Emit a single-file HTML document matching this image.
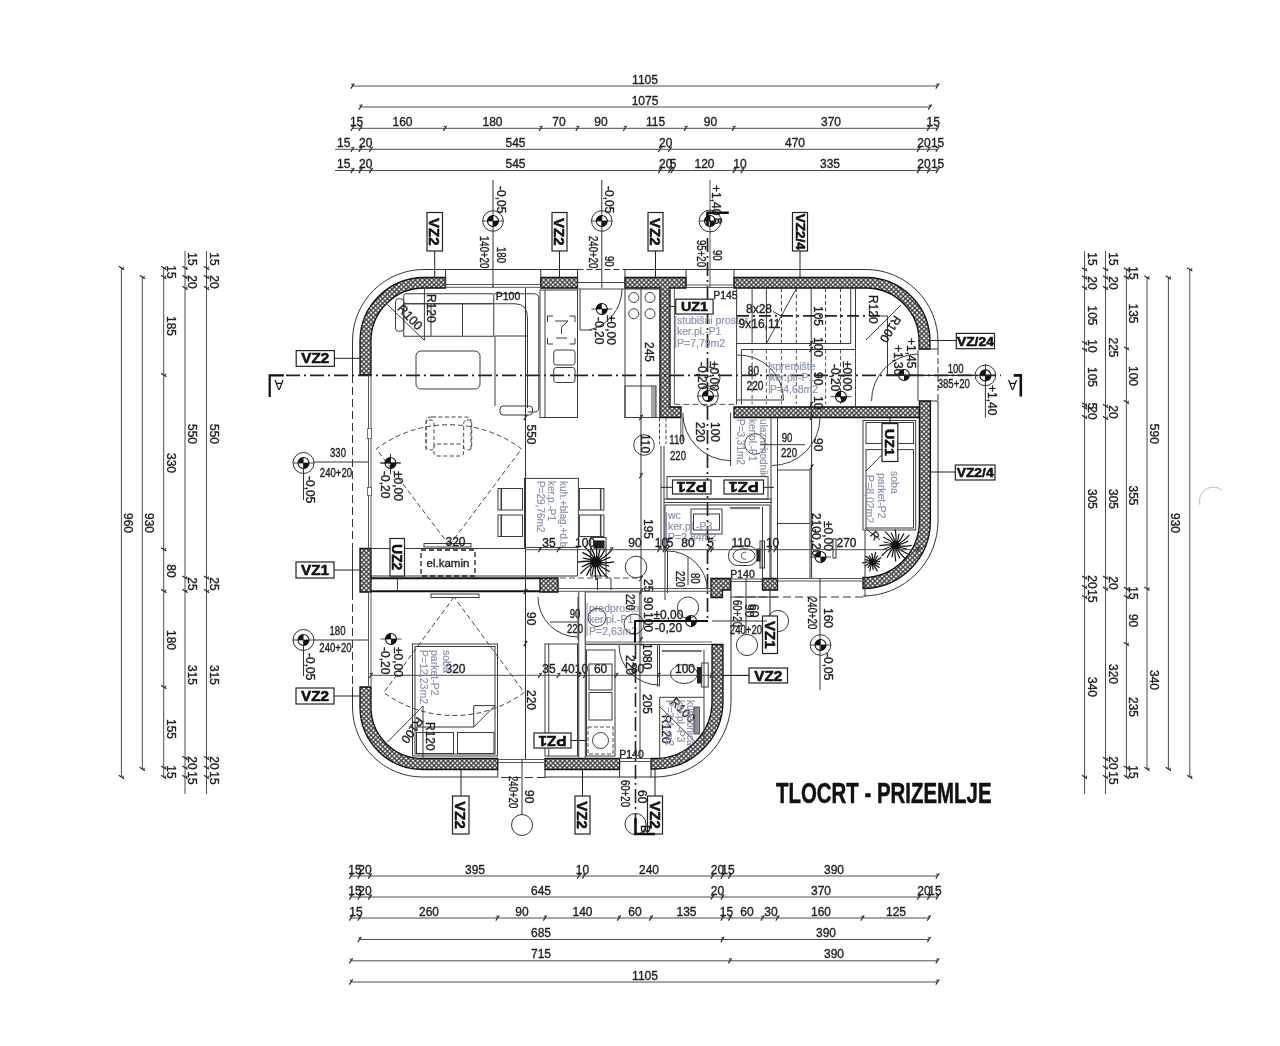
<!DOCTYPE html>
<html><head><meta charset="utf-8"><style>
html,body{margin:0;padding:0;background:#fff;}
svg{display:block;filter:blur(0.3px);}
text{font-family:"Liberation Sans",sans-serif;}
</style></head><body>
<svg width="1280" height="1046" viewBox="0 0 1280 1046">
<rect width="1280" height="1046" fill="#fff"/>
<defs>
<pattern id="hatch" width="3.3" height="3.3" patternUnits="userSpaceOnUse" patternTransform="rotate(45)">
<rect width="3.3" height="3.3" fill="#333"/><rect x="0.6" y="0.6" width="2.1" height="2.1" fill="#f6f6f6"/>
</pattern>
</defs>
<line x1="352.5" y1="86" x2="937.5" y2="86" stroke="#4d4d4d" stroke-width="1"/>
<path d="M350.8 88.6L354.2 83.4M351.3 84.2L352.7 84.2" stroke="#2a2a2a" stroke-width="1.15" fill="none"/>
<path d="M935.8 88.6L939.2 83.4M936.3 84.2L937.7 84.2" stroke="#2a2a2a" stroke-width="1.15" fill="none"/>
<text x="645" y="83.6" font-size="12" text-anchor="middle" fill="#1e1e1e" stroke="#1e1e1e" stroke-width="0.35">1105</text>
<line x1="360.5" y1="107" x2="930" y2="107" stroke="#4d4d4d" stroke-width="1"/>
<path d="M358.8 109.6L362.2 104.4M359.3 105.2L360.7 105.2" stroke="#2a2a2a" stroke-width="1.15" fill="none"/>
<path d="M928.3 109.6L931.7 104.4M928.8 105.2L930.2 105.2" stroke="#2a2a2a" stroke-width="1.15" fill="none"/>
<text x="645" y="104.6" font-size="12" text-anchor="middle" fill="#1e1e1e" stroke="#1e1e1e" stroke-width="0.35">1075</text>
<line x1="352.5" y1="128.3" x2="937.5" y2="128.3" stroke="#4d4d4d" stroke-width="1"/>
<path d="M350.8 130.9L354.2 125.70000000000002M351.3 126.50000000000001L352.7 126.50000000000001" stroke="#2a2a2a" stroke-width="1.15" fill="none"/>
<path d="M358.8 130.9L362.2 125.70000000000002M359.3 126.50000000000001L360.7 126.50000000000001" stroke="#2a2a2a" stroke-width="1.15" fill="none"/>
<path d="M443.3 130.9L446.7 125.70000000000002M443.8 126.50000000000001L445.2 126.50000000000001" stroke="#2a2a2a" stroke-width="1.15" fill="none"/>
<path d="M539.05 130.9L542.45 125.70000000000002M539.55 126.50000000000001L540.95 126.50000000000001" stroke="#2a2a2a" stroke-width="1.15" fill="none"/>
<path d="M575.8 130.9L579.2 125.70000000000002M576.3 126.50000000000001L577.7 126.50000000000001" stroke="#2a2a2a" stroke-width="1.15" fill="none"/>
<path d="M623.3 130.9L626.7 125.70000000000002M623.8 126.50000000000001L625.2 126.50000000000001" stroke="#2a2a2a" stroke-width="1.15" fill="none"/>
<path d="M684.05 130.9L687.45 125.70000000000002M684.55 126.50000000000001L685.95 126.50000000000001" stroke="#2a2a2a" stroke-width="1.15" fill="none"/>
<path d="M732.05 130.9L735.45 125.70000000000002M732.55 126.50000000000001L733.95 126.50000000000001" stroke="#2a2a2a" stroke-width="1.15" fill="none"/>
<path d="M927.05 130.9L930.45 125.70000000000002M927.55 126.50000000000001L928.95 126.50000000000001" stroke="#2a2a2a" stroke-width="1.15" fill="none"/>
<path d="M935.8 130.9L939.2 125.70000000000002M936.3 126.50000000000001L937.7 126.50000000000001" stroke="#2a2a2a" stroke-width="1.15" fill="none"/>
<text x="356.6" y="125.9" font-size="12" text-anchor="middle" fill="#1e1e1e" stroke="#1e1e1e" stroke-width="0.35">15</text>
<text x="402.5" y="125.9" font-size="12" text-anchor="middle" fill="#1e1e1e" stroke="#1e1e1e" stroke-width="0.35">160</text>
<text x="492.5" y="125.9" font-size="12" text-anchor="middle" fill="#1e1e1e" stroke="#1e1e1e" stroke-width="0.35">180</text>
<text x="559" y="125.9" font-size="12" text-anchor="middle" fill="#1e1e1e" stroke="#1e1e1e" stroke-width="0.35">70</text>
<text x="601" y="125.9" font-size="12" text-anchor="middle" fill="#1e1e1e" stroke="#1e1e1e" stroke-width="0.35">90</text>
<text x="655.5" y="125.9" font-size="12" text-anchor="middle" fill="#1e1e1e" stroke="#1e1e1e" stroke-width="0.35">115</text>
<text x="710.5" y="125.9" font-size="12" text-anchor="middle" fill="#1e1e1e" stroke="#1e1e1e" stroke-width="0.35">90</text>
<text x="831" y="125.9" font-size="12" text-anchor="middle" fill="#1e1e1e" stroke="#1e1e1e" stroke-width="0.35">370</text>
<text x="933.3" y="125.9" font-size="12" text-anchor="middle" fill="#1e1e1e" stroke="#1e1e1e" stroke-width="0.35">15</text>
<line x1="335" y1="149.3" x2="937.5" y2="149.3" stroke="#4d4d4d" stroke-width="1"/>
<path d="M350.8 151.9L354.2 146.70000000000002M351.3 147.5L352.7 147.5" stroke="#2a2a2a" stroke-width="1.15" fill="none"/>
<path d="M358.8 151.9L362.2 146.70000000000002M359.3 147.5L360.7 147.5" stroke="#2a2a2a" stroke-width="1.15" fill="none"/>
<path d="M369.3 151.9L372.7 146.70000000000002M369.8 147.5L371.2 147.5" stroke="#2a2a2a" stroke-width="1.15" fill="none"/>
<path d="M658.3 151.9L661.7 146.70000000000002M658.8 147.5L660.2 147.5" stroke="#2a2a2a" stroke-width="1.15" fill="none"/>
<path d="M668.3 151.9L671.7 146.70000000000002M668.8 147.5L670.2 147.5" stroke="#2a2a2a" stroke-width="1.15" fill="none"/>
<path d="M917.05 151.9L920.45 146.70000000000002M917.55 147.5L918.95 147.5" stroke="#2a2a2a" stroke-width="1.15" fill="none"/>
<path d="M927.05 151.9L930.45 146.70000000000002M927.55 147.5L928.95 147.5" stroke="#2a2a2a" stroke-width="1.15" fill="none"/>
<path d="M935.8 151.9L939.2 146.70000000000002M936.3 147.5L937.7 147.5" stroke="#2a2a2a" stroke-width="1.15" fill="none"/>
<text x="343.8" y="146.9" font-size="12" text-anchor="middle" fill="#1e1e1e" stroke="#1e1e1e" stroke-width="0.35">15</text>
<text x="365.8" y="146.9" font-size="12" text-anchor="middle" fill="#1e1e1e" stroke="#1e1e1e" stroke-width="0.35">20</text>
<text x="515.5" y="146.9" font-size="12" text-anchor="middle" fill="#1e1e1e" stroke="#1e1e1e" stroke-width="0.35">545</text>
<text x="665.8" y="146.9" font-size="12" text-anchor="middle" fill="#1e1e1e" stroke="#1e1e1e" stroke-width="0.35">20</text>
<text x="795" y="146.9" font-size="12" text-anchor="middle" fill="#1e1e1e" stroke="#1e1e1e" stroke-width="0.35">470</text>
<text x="924" y="146.9" font-size="12" text-anchor="middle" fill="#1e1e1e" stroke="#1e1e1e" stroke-width="0.35">20</text>
<text x="937.6" y="146.9" font-size="12" text-anchor="middle" fill="#1e1e1e" stroke="#1e1e1e" stroke-width="0.35">15</text>
<line x1="335" y1="170.5" x2="937.5" y2="170.5" stroke="#4d4d4d" stroke-width="1"/>
<path d="M350.8 173.1L354.2 167.9M351.3 168.7L352.7 168.7" stroke="#2a2a2a" stroke-width="1.15" fill="none"/>
<path d="M358.8 173.1L362.2 167.9M359.3 168.7L360.7 168.7" stroke="#2a2a2a" stroke-width="1.15" fill="none"/>
<path d="M369.3 173.1L372.7 167.9M369.8 168.7L371.2 168.7" stroke="#2a2a2a" stroke-width="1.15" fill="none"/>
<path d="M658.3 173.1L661.7 167.9M658.8 168.7L660.2 168.7" stroke="#2a2a2a" stroke-width="1.15" fill="none"/>
<path d="M668.3 173.1L671.7 167.9M668.8 168.7L670.2 168.7" stroke="#2a2a2a" stroke-width="1.15" fill="none"/>
<path d="M670.8 173.1L674.2 167.9M671.3 168.7L672.7 168.7" stroke="#2a2a2a" stroke-width="1.15" fill="none"/>
<path d="M732.8 173.1L736.2 167.9M733.3 168.7L734.7 168.7" stroke="#2a2a2a" stroke-width="1.15" fill="none"/>
<path d="M740.8 173.1L744.2 167.9M741.3 168.7L742.7 168.7" stroke="#2a2a2a" stroke-width="1.15" fill="none"/>
<path d="M917.05 173.1L920.45 167.9M917.55 168.7L918.95 168.7" stroke="#2a2a2a" stroke-width="1.15" fill="none"/>
<path d="M927.05 173.1L930.45 167.9M927.55 168.7L928.95 168.7" stroke="#2a2a2a" stroke-width="1.15" fill="none"/>
<path d="M935.8 173.1L939.2 167.9M936.3 168.7L937.7 168.7" stroke="#2a2a2a" stroke-width="1.15" fill="none"/>
<text x="343.8" y="168.1" font-size="12" text-anchor="middle" fill="#1e1e1e" stroke="#1e1e1e" stroke-width="0.35">15</text>
<text x="365.8" y="168.1" font-size="12" text-anchor="middle" fill="#1e1e1e" stroke="#1e1e1e" stroke-width="0.35">20</text>
<text x="515.5" y="168.1" font-size="12" text-anchor="middle" fill="#1e1e1e" stroke="#1e1e1e" stroke-width="0.35">545</text>
<text x="665.8" y="168.1" font-size="12" text-anchor="middle" fill="#1e1e1e" stroke="#1e1e1e" stroke-width="0.35">20</text>
<text x="673" y="168.1" font-size="12" text-anchor="middle" fill="#1e1e1e" stroke="#1e1e1e" stroke-width="0.35">5</text>
<text x="704.5" y="168.1" font-size="12" text-anchor="middle" fill="#1e1e1e" stroke="#1e1e1e" stroke-width="0.35">120</text>
<text x="740" y="168.1" font-size="12" text-anchor="middle" fill="#1e1e1e" stroke="#1e1e1e" stroke-width="0.35">10</text>
<text x="830" y="168.1" font-size="12" text-anchor="middle" fill="#1e1e1e" stroke="#1e1e1e" stroke-width="0.35">335</text>
<text x="924" y="168.1" font-size="12" text-anchor="middle" fill="#1e1e1e" stroke="#1e1e1e" stroke-width="0.35">20</text>
<text x="937.6" y="168.1" font-size="12" text-anchor="middle" fill="#1e1e1e" stroke="#1e1e1e" stroke-width="0.35">15</text>
<line x1="351" y1="876" x2="937.5" y2="876" stroke="#4d4d4d" stroke-width="1"/>
<path d="M349.3 878.6L352.7 873.4M349.8 874.2L351.2 874.2" stroke="#2a2a2a" stroke-width="1.15" fill="none"/>
<path d="M357.8 878.6L361.2 873.4M358.3 874.2L359.7 874.2" stroke="#2a2a2a" stroke-width="1.15" fill="none"/>
<path d="M368.3 878.6L371.7 873.4M368.8 874.2L370.2 874.2" stroke="#2a2a2a" stroke-width="1.15" fill="none"/>
<path d="M577.3 878.6L580.7 873.4M577.8 874.2L579.2 874.2" stroke="#2a2a2a" stroke-width="1.15" fill="none"/>
<path d="M582.3 878.6L585.7 873.4M582.8 874.2L584.2 874.2" stroke="#2a2a2a" stroke-width="1.15" fill="none"/>
<path d="M710.8 878.6L714.2 873.4M711.3 874.2L712.7 874.2" stroke="#2a2a2a" stroke-width="1.15" fill="none"/>
<path d="M720.8 878.6L724.2 873.4M721.3 874.2L722.7 874.2" stroke="#2a2a2a" stroke-width="1.15" fill="none"/>
<path d="M728.3 878.6L731.7 873.4M728.8 874.2L730.2 874.2" stroke="#2a2a2a" stroke-width="1.15" fill="none"/>
<path d="M935.8 878.6L939.2 873.4M936.3 874.2L937.7 874.2" stroke="#2a2a2a" stroke-width="1.15" fill="none"/>
<text x="355" y="873.6" font-size="12" text-anchor="middle" fill="#1e1e1e" stroke="#1e1e1e" stroke-width="0.35">15</text>
<text x="365" y="873.6" font-size="12" text-anchor="middle" fill="#1e1e1e" stroke="#1e1e1e" stroke-width="0.35">20</text>
<text x="475" y="873.6" font-size="12" text-anchor="middle" fill="#1e1e1e" stroke="#1e1e1e" stroke-width="0.35">395</text>
<text x="582.5" y="873.6" font-size="12" text-anchor="middle" fill="#1e1e1e" stroke="#1e1e1e" stroke-width="0.35">10</text>
<text x="649" y="873.6" font-size="12" text-anchor="middle" fill="#1e1e1e" stroke="#1e1e1e" stroke-width="0.35">240</text>
<text x="717.5" y="873.6" font-size="12" text-anchor="middle" fill="#1e1e1e" stroke="#1e1e1e" stroke-width="0.35">20</text>
<text x="728" y="873.6" font-size="12" text-anchor="middle" fill="#1e1e1e" stroke="#1e1e1e" stroke-width="0.35">15</text>
<text x="834" y="873.6" font-size="12" text-anchor="middle" fill="#1e1e1e" stroke="#1e1e1e" stroke-width="0.35">390</text>
<line x1="351" y1="897" x2="937.5" y2="897" stroke="#4d4d4d" stroke-width="1"/>
<path d="M349.3 899.6L352.7 894.4M349.8 895.2L351.2 895.2" stroke="#2a2a2a" stroke-width="1.15" fill="none"/>
<path d="M357.8 899.6L361.2 894.4M358.3 895.2L359.7 895.2" stroke="#2a2a2a" stroke-width="1.15" fill="none"/>
<path d="M368.3 899.6L371.7 894.4M368.8 895.2L370.2 895.2" stroke="#2a2a2a" stroke-width="1.15" fill="none"/>
<path d="M710.8 899.6L714.2 894.4M711.3 895.2L712.7 895.2" stroke="#2a2a2a" stroke-width="1.15" fill="none"/>
<path d="M720.8 899.6L724.2 894.4M721.3 895.2L722.7 895.2" stroke="#2a2a2a" stroke-width="1.15" fill="none"/>
<path d="M917.3 899.6L920.7 894.4M917.8 895.2L919.2 895.2" stroke="#2a2a2a" stroke-width="1.15" fill="none"/>
<path d="M927.3 899.6L930.7 894.4M927.8 895.2L929.2 895.2" stroke="#2a2a2a" stroke-width="1.15" fill="none"/>
<path d="M935.8 899.6L939.2 894.4M936.3 895.2L937.7 895.2" stroke="#2a2a2a" stroke-width="1.15" fill="none"/>
<text x="355" y="894.6" font-size="12" text-anchor="middle" fill="#1e1e1e" stroke="#1e1e1e" stroke-width="0.35">15</text>
<text x="365" y="894.6" font-size="12" text-anchor="middle" fill="#1e1e1e" stroke="#1e1e1e" stroke-width="0.35">20</text>
<text x="541" y="894.6" font-size="12" text-anchor="middle" fill="#1e1e1e" stroke="#1e1e1e" stroke-width="0.35">645</text>
<text x="717.5" y="894.6" font-size="12" text-anchor="middle" fill="#1e1e1e" stroke="#1e1e1e" stroke-width="0.35">20</text>
<text x="821" y="894.6" font-size="12" text-anchor="middle" fill="#1e1e1e" stroke="#1e1e1e" stroke-width="0.35">370</text>
<text x="924" y="894.6" font-size="12" text-anchor="middle" fill="#1e1e1e" stroke="#1e1e1e" stroke-width="0.35">20</text>
<text x="935" y="894.6" font-size="12" text-anchor="middle" fill="#1e1e1e" stroke="#1e1e1e" stroke-width="0.35">15</text>
<line x1="351" y1="918" x2="929" y2="918" stroke="#4d4d4d" stroke-width="1"/>
<path d="M349.3 920.6L352.7 915.4M349.8 916.2L351.2 916.2" stroke="#2a2a2a" stroke-width="1.15" fill="none"/>
<path d="M357.8 920.6L361.2 915.4M358.3 916.2L359.7 916.2" stroke="#2a2a2a" stroke-width="1.15" fill="none"/>
<path d="M495.8 920.6L499.2 915.4M496.3 916.2L497.7 916.2" stroke="#2a2a2a" stroke-width="1.15" fill="none"/>
<path d="M543.3 920.6L546.7 915.4M543.8 916.2L545.2 916.2" stroke="#2a2a2a" stroke-width="1.15" fill="none"/>
<path d="M617.3 920.6L620.7 915.4M617.8 916.2L619.2 916.2" stroke="#2a2a2a" stroke-width="1.15" fill="none"/>
<path d="M649.3 920.6L652.7 915.4M649.8 916.2L651.2 916.2" stroke="#2a2a2a" stroke-width="1.15" fill="none"/>
<path d="M720.8 920.6L724.2 915.4M721.3 916.2L722.7 916.2" stroke="#2a2a2a" stroke-width="1.15" fill="none"/>
<path d="M728.3 920.6L731.7 915.4M728.8 916.2L730.2 916.2" stroke="#2a2a2a" stroke-width="1.15" fill="none"/>
<path d="M760.8 920.6L764.2 915.4M761.3 916.2L762.7 916.2" stroke="#2a2a2a" stroke-width="1.15" fill="none"/>
<path d="M775.8 920.6L779.2 915.4M776.3 916.2L777.7 916.2" stroke="#2a2a2a" stroke-width="1.15" fill="none"/>
<path d="M860.8 920.6L864.2 915.4M861.3 916.2L862.7 916.2" stroke="#2a2a2a" stroke-width="1.15" fill="none"/>
<path d="M927.3 920.6L930.7 915.4M927.8 916.2L929.2 916.2" stroke="#2a2a2a" stroke-width="1.15" fill="none"/>
<text x="356" y="915.6" font-size="12" text-anchor="middle" fill="#1e1e1e" stroke="#1e1e1e" stroke-width="0.35">15</text>
<text x="429" y="915.6" font-size="12" text-anchor="middle" fill="#1e1e1e" stroke="#1e1e1e" stroke-width="0.35">260</text>
<text x="522" y="915.6" font-size="12" text-anchor="middle" fill="#1e1e1e" stroke="#1e1e1e" stroke-width="0.35">90</text>
<text x="582.5" y="915.6" font-size="12" text-anchor="middle" fill="#1e1e1e" stroke="#1e1e1e" stroke-width="0.35">140</text>
<text x="635" y="915.6" font-size="12" text-anchor="middle" fill="#1e1e1e" stroke="#1e1e1e" stroke-width="0.35">60</text>
<text x="686.5" y="915.6" font-size="12" text-anchor="middle" fill="#1e1e1e" stroke="#1e1e1e" stroke-width="0.35">135</text>
<text x="726.5" y="915.6" font-size="12" text-anchor="middle" fill="#1e1e1e" stroke="#1e1e1e" stroke-width="0.35">15</text>
<text x="747" y="915.6" font-size="12" text-anchor="middle" fill="#1e1e1e" stroke="#1e1e1e" stroke-width="0.35">60</text>
<text x="771" y="915.6" font-size="12" text-anchor="middle" fill="#1e1e1e" stroke="#1e1e1e" stroke-width="0.35">30</text>
<text x="821" y="915.6" font-size="12" text-anchor="middle" fill="#1e1e1e" stroke="#1e1e1e" stroke-width="0.35">160</text>
<text x="896" y="915.6" font-size="12" text-anchor="middle" fill="#1e1e1e" stroke="#1e1e1e" stroke-width="0.35">125</text>
<line x1="359.5" y1="939.5" x2="929" y2="939.5" stroke="#4d4d4d" stroke-width="1"/>
<path d="M357.8 942.1L361.2 936.9M358.3 937.7L359.7 937.7" stroke="#2a2a2a" stroke-width="1.15" fill="none"/>
<path d="M720.8 942.1L724.2 936.9M721.3 937.7L722.7 937.7" stroke="#2a2a2a" stroke-width="1.15" fill="none"/>
<path d="M927.3 942.1L930.7 936.9M927.8 937.7L929.2 937.7" stroke="#2a2a2a" stroke-width="1.15" fill="none"/>
<text x="541" y="937.1" font-size="12" text-anchor="middle" fill="#1e1e1e" stroke="#1e1e1e" stroke-width="0.35">685</text>
<text x="826" y="937.1" font-size="12" text-anchor="middle" fill="#1e1e1e" stroke="#1e1e1e" stroke-width="0.35">390</text>
<line x1="351" y1="960.8" x2="937.5" y2="960.8" stroke="#4d4d4d" stroke-width="1"/>
<path d="M349.3 963.4L352.7 958.1999999999999M349.8 959.0L351.2 959.0" stroke="#2a2a2a" stroke-width="1.15" fill="none"/>
<path d="M728.3 963.4L731.7 958.1999999999999M728.8 959.0L730.2 959.0" stroke="#2a2a2a" stroke-width="1.15" fill="none"/>
<path d="M935.8 963.4L939.2 958.1999999999999M936.3 959.0L937.7 959.0" stroke="#2a2a2a" stroke-width="1.15" fill="none"/>
<text x="541" y="958.4" font-size="12" text-anchor="middle" fill="#1e1e1e" stroke="#1e1e1e" stroke-width="0.35">715</text>
<text x="834" y="958.4" font-size="12" text-anchor="middle" fill="#1e1e1e" stroke="#1e1e1e" stroke-width="0.35">390</text>
<line x1="351" y1="982" x2="937.5" y2="982" stroke="#4d4d4d" stroke-width="1"/>
<path d="M349.3 984.6L352.7 979.4M349.8 980.2L351.2 980.2" stroke="#2a2a2a" stroke-width="1.15" fill="none"/>
<path d="M935.8 984.6L939.2 979.4M936.3 980.2L937.7 980.2" stroke="#2a2a2a" stroke-width="1.15" fill="none"/>
<text x="645" y="979.6" font-size="12" text-anchor="middle" fill="#1e1e1e" stroke="#1e1e1e" stroke-width="0.35">1105</text>
<line x1="121.4" y1="268" x2="121.4" y2="777" stroke="#4d4d4d" stroke-width="1"/>
<path d="M118.80000000000001 266.3L124.0 269.7M123.2 266.8L123.2 268.2" stroke="#2a2a2a" stroke-width="1.15" fill="none"/>
<path d="M118.80000000000001 775.3L124.0 778.7M123.2 775.8L123.2 777.2" stroke="#2a2a2a" stroke-width="1.15" fill="none"/>
<text x="124.4" y="523" font-size="12" text-anchor="middle" fill="#1e1e1e" stroke="#1e1e1e" stroke-width="0.35" transform="rotate(90 124.4 523)">960</text>
<line x1="142.3" y1="277" x2="142.3" y2="769" stroke="#4d4d4d" stroke-width="1"/>
<path d="M139.70000000000002 275.3L144.9 278.7M144.10000000000002 275.8L144.10000000000002 277.2" stroke="#2a2a2a" stroke-width="1.15" fill="none"/>
<path d="M139.70000000000002 767.3L144.9 770.7M144.10000000000002 767.8L144.10000000000002 769.2" stroke="#2a2a2a" stroke-width="1.15" fill="none"/>
<text x="145.3" y="523" font-size="12" text-anchor="middle" fill="#1e1e1e" stroke="#1e1e1e" stroke-width="0.35" transform="rotate(90 145.3 523)">930</text>
<line x1="163.7" y1="268" x2="163.7" y2="777" stroke="#4d4d4d" stroke-width="1"/>
<path d="M161.1 266.3L166.29999999999998 269.7M165.5 266.8L165.5 268.2" stroke="#2a2a2a" stroke-width="1.15" fill="none"/>
<path d="M161.1 275.3L166.29999999999998 278.7M165.5 275.8L165.5 277.2" stroke="#2a2a2a" stroke-width="1.15" fill="none"/>
<path d="M161.1 373.3L166.29999999999998 376.7M165.5 373.8L165.5 375.2" stroke="#2a2a2a" stroke-width="1.15" fill="none"/>
<path d="M161.1 547.6999999999999L166.29999999999998 551.1M165.5 548.1999999999999L165.5 549.6" stroke="#2a2a2a" stroke-width="1.15" fill="none"/>
<path d="M161.1 589.3L166.29999999999998 592.7M165.5 589.8L165.5 591.2" stroke="#2a2a2a" stroke-width="1.15" fill="none"/>
<path d="M161.1 685.3L166.29999999999998 688.7M165.5 685.8L165.5 687.2" stroke="#2a2a2a" stroke-width="1.15" fill="none"/>
<path d="M161.1 765.9L166.29999999999998 769.3000000000001M165.5 766.4L165.5 767.8000000000001" stroke="#2a2a2a" stroke-width="1.15" fill="none"/>
<path d="M161.1 775.3L166.29999999999998 778.7M165.5 775.8L165.5 777.2" stroke="#2a2a2a" stroke-width="1.15" fill="none"/>
<text x="166.7" y="272" font-size="12" text-anchor="middle" fill="#1e1e1e" stroke="#1e1e1e" stroke-width="0.35" transform="rotate(90 166.7 272)">15</text>
<text x="166.7" y="326" font-size="12" text-anchor="middle" fill="#1e1e1e" stroke="#1e1e1e" stroke-width="0.35" transform="rotate(90 166.7 326)">185</text>
<text x="166.7" y="463" font-size="12" text-anchor="middle" fill="#1e1e1e" stroke="#1e1e1e" stroke-width="0.35" transform="rotate(90 166.7 463)">330</text>
<text x="166.7" y="571" font-size="12" text-anchor="middle" fill="#1e1e1e" stroke="#1e1e1e" stroke-width="0.35" transform="rotate(90 166.7 571)">80</text>
<text x="166.7" y="640" font-size="12" text-anchor="middle" fill="#1e1e1e" stroke="#1e1e1e" stroke-width="0.35" transform="rotate(90 166.7 640)">180</text>
<text x="166.7" y="729" font-size="12" text-anchor="middle" fill="#1e1e1e" stroke="#1e1e1e" stroke-width="0.35" transform="rotate(90 166.7 729)">155</text>
<text x="166.7" y="772" font-size="12" text-anchor="middle" fill="#1e1e1e" stroke="#1e1e1e" stroke-width="0.35" transform="rotate(90 166.7 772)">15</text>
<line x1="185" y1="251" x2="185" y2="794" stroke="#4d4d4d" stroke-width="1"/>
<path d="M182.4 266.3L187.6 269.7M186.8 266.8L186.8 268.2" stroke="#2a2a2a" stroke-width="1.15" fill="none"/>
<path d="M182.4 275.3L187.6 278.7M186.8 275.8L186.8 277.2" stroke="#2a2a2a" stroke-width="1.15" fill="none"/>
<path d="M182.4 286.3L187.6 289.7M186.8 286.8L186.8 288.2" stroke="#2a2a2a" stroke-width="1.15" fill="none"/>
<path d="M182.4 575.9L187.6 579.3000000000001M186.8 576.4L186.8 577.8000000000001" stroke="#2a2a2a" stroke-width="1.15" fill="none"/>
<path d="M182.4 589.3L187.6 592.7M186.8 589.8L186.8 591.2" stroke="#2a2a2a" stroke-width="1.15" fill="none"/>
<path d="M182.4 756.3L187.6 759.7M186.8 756.8L186.8 758.2" stroke="#2a2a2a" stroke-width="1.15" fill="none"/>
<path d="M182.4 765.9L187.6 769.3000000000001M186.8 766.4L186.8 767.8000000000001" stroke="#2a2a2a" stroke-width="1.15" fill="none"/>
<path d="M182.4 775.3L187.6 778.7M186.8 775.8L186.8 777.2" stroke="#2a2a2a" stroke-width="1.15" fill="none"/>
<text x="188" y="259" font-size="12" text-anchor="middle" fill="#1e1e1e" stroke="#1e1e1e" stroke-width="0.35" transform="rotate(90 188 259)">15</text>
<text x="188" y="282" font-size="12" text-anchor="middle" fill="#1e1e1e" stroke="#1e1e1e" stroke-width="0.35" transform="rotate(90 188 282)">20</text>
<text x="188" y="434" font-size="12" text-anchor="middle" fill="#1e1e1e" stroke="#1e1e1e" stroke-width="0.35" transform="rotate(90 188 434)">550</text>
<text x="188" y="584" font-size="12" text-anchor="middle" fill="#1e1e1e" stroke="#1e1e1e" stroke-width="0.35" transform="rotate(90 188 584)">25</text>
<text x="188" y="675" font-size="12" text-anchor="middle" fill="#1e1e1e" stroke="#1e1e1e" stroke-width="0.35" transform="rotate(90 188 675)">315</text>
<text x="188" y="763" font-size="12" text-anchor="middle" fill="#1e1e1e" stroke="#1e1e1e" stroke-width="0.35" transform="rotate(90 188 763)">20</text>
<text x="188" y="778" font-size="12" text-anchor="middle" fill="#1e1e1e" stroke="#1e1e1e" stroke-width="0.35" transform="rotate(90 188 778)">15</text>
<line x1="206.5" y1="251" x2="206.5" y2="794" stroke="#4d4d4d" stroke-width="1"/>
<path d="M203.9 266.3L209.1 269.7M208.3 266.8L208.3 268.2" stroke="#2a2a2a" stroke-width="1.15" fill="none"/>
<path d="M203.9 275.3L209.1 278.7M208.3 275.8L208.3 277.2" stroke="#2a2a2a" stroke-width="1.15" fill="none"/>
<path d="M203.9 286.3L209.1 289.7M208.3 286.8L208.3 288.2" stroke="#2a2a2a" stroke-width="1.15" fill="none"/>
<path d="M203.9 575.9L209.1 579.3000000000001M208.3 576.4L208.3 577.8000000000001" stroke="#2a2a2a" stroke-width="1.15" fill="none"/>
<path d="M203.9 589.3L209.1 592.7M208.3 589.8L208.3 591.2" stroke="#2a2a2a" stroke-width="1.15" fill="none"/>
<path d="M203.9 756.3L209.1 759.7M208.3 756.8L208.3 758.2" stroke="#2a2a2a" stroke-width="1.15" fill="none"/>
<path d="M203.9 765.9L209.1 769.3000000000001M208.3 766.4L208.3 767.8000000000001" stroke="#2a2a2a" stroke-width="1.15" fill="none"/>
<path d="M203.9 775.3L209.1 778.7M208.3 775.8L208.3 777.2" stroke="#2a2a2a" stroke-width="1.15" fill="none"/>
<text x="209.5" y="259" font-size="12" text-anchor="middle" fill="#1e1e1e" stroke="#1e1e1e" stroke-width="0.35" transform="rotate(90 209.5 259)">15</text>
<text x="209.5" y="282" font-size="12" text-anchor="middle" fill="#1e1e1e" stroke="#1e1e1e" stroke-width="0.35" transform="rotate(90 209.5 282)">20</text>
<text x="209.5" y="434" font-size="12" text-anchor="middle" fill="#1e1e1e" stroke="#1e1e1e" stroke-width="0.35" transform="rotate(90 209.5 434)">550</text>
<text x="209.5" y="584" font-size="12" text-anchor="middle" fill="#1e1e1e" stroke="#1e1e1e" stroke-width="0.35" transform="rotate(90 209.5 584)">25</text>
<text x="209.5" y="675" font-size="12" text-anchor="middle" fill="#1e1e1e" stroke="#1e1e1e" stroke-width="0.35" transform="rotate(90 209.5 675)">315</text>
<text x="209.5" y="763" font-size="12" text-anchor="middle" fill="#1e1e1e" stroke="#1e1e1e" stroke-width="0.35" transform="rotate(90 209.5 763)">20</text>
<text x="209.5" y="778" font-size="12" text-anchor="middle" fill="#1e1e1e" stroke="#1e1e1e" stroke-width="0.35" transform="rotate(90 209.5 778)">15</text>
<line x1="1084.6" y1="251" x2="1084.6" y2="794" stroke="#4d4d4d" stroke-width="1"/>
<path d="M1082.0 267.7L1087.1999999999998 271.09999999999997M1086.3999999999999 268.2L1086.3999999999999 269.59999999999997" stroke="#2a2a2a" stroke-width="1.15" fill="none"/>
<path d="M1082.0 275.8L1087.1999999999998 279.2M1086.3999999999999 276.3L1086.3999999999999 277.7" stroke="#2a2a2a" stroke-width="1.15" fill="none"/>
<path d="M1082.0 286.3L1087.1999999999998 289.7M1086.3999999999999 286.8L1086.3999999999999 288.2" stroke="#2a2a2a" stroke-width="1.15" fill="none"/>
<path d="M1082.0 341.3L1087.1999999999998 344.7M1086.3999999999999 341.8L1086.3999999999999 343.2" stroke="#2a2a2a" stroke-width="1.15" fill="none"/>
<path d="M1082.0 348.0L1087.1999999999998 351.4M1086.3999999999999 348.5L1086.3999999999999 349.9" stroke="#2a2a2a" stroke-width="1.15" fill="none"/>
<path d="M1082.0 402.8L1087.1999999999998 406.2M1086.3999999999999 403.3L1086.3999999999999 404.7" stroke="#2a2a2a" stroke-width="1.15" fill="none"/>
<path d="M1082.0 405.8L1087.1999999999998 409.2M1086.3999999999999 406.3L1086.3999999999999 407.7" stroke="#2a2a2a" stroke-width="1.15" fill="none"/>
<path d="M1082.0 415.3L1087.1999999999998 418.7M1086.3999999999999 415.8L1086.3999999999999 417.2" stroke="#2a2a2a" stroke-width="1.15" fill="none"/>
<path d="M1082.0 575.9L1087.1999999999998 579.3000000000001M1086.3999999999999 576.4L1086.3999999999999 577.8000000000001" stroke="#2a2a2a" stroke-width="1.15" fill="none"/>
<path d="M1082.0 585.3L1087.1999999999998 588.7M1086.3999999999999 585.8L1086.3999999999999 587.2" stroke="#2a2a2a" stroke-width="1.15" fill="none"/>
<path d="M1082.0 595.3L1087.1999999999998 598.7M1086.3999999999999 595.8L1086.3999999999999 597.2" stroke="#2a2a2a" stroke-width="1.15" fill="none"/>
<path d="M1082.0 775.3L1087.1999999999998 778.7M1086.3999999999999 775.8L1086.3999999999999 777.2" stroke="#2a2a2a" stroke-width="1.15" fill="none"/>
<text x="1087.6" y="259" font-size="12" text-anchor="middle" fill="#1e1e1e" stroke="#1e1e1e" stroke-width="0.35" transform="rotate(90 1087.6 259)">15</text>
<text x="1087.6" y="283" font-size="12" text-anchor="middle" fill="#1e1e1e" stroke="#1e1e1e" stroke-width="0.35" transform="rotate(90 1087.6 283)">20</text>
<text x="1087.6" y="315.5" font-size="12" text-anchor="middle" fill="#1e1e1e" stroke="#1e1e1e" stroke-width="0.35" transform="rotate(90 1087.6 315.5)">105</text>
<text x="1087.6" y="346" font-size="12" text-anchor="middle" fill="#1e1e1e" stroke="#1e1e1e" stroke-width="0.35" transform="rotate(90 1087.6 346)">10</text>
<text x="1087.6" y="377" font-size="12" text-anchor="middle" fill="#1e1e1e" stroke="#1e1e1e" stroke-width="0.35" transform="rotate(90 1087.6 377)">105</text>
<text x="1087.6" y="406" font-size="12" text-anchor="middle" fill="#1e1e1e" stroke="#1e1e1e" stroke-width="0.35" transform="rotate(90 1087.6 406)">5</text>
<text x="1087.6" y="413" font-size="12" text-anchor="middle" fill="#1e1e1e" stroke="#1e1e1e" stroke-width="0.35" transform="rotate(90 1087.6 413)">20</text>
<text x="1087.6" y="499" font-size="12" text-anchor="middle" fill="#1e1e1e" stroke="#1e1e1e" stroke-width="0.35" transform="rotate(90 1087.6 499)">305</text>
<text x="1087.6" y="582" font-size="12" text-anchor="middle" fill="#1e1e1e" stroke="#1e1e1e" stroke-width="0.35" transform="rotate(90 1087.6 582)">20</text>
<text x="1087.6" y="596" font-size="12" text-anchor="middle" fill="#1e1e1e" stroke="#1e1e1e" stroke-width="0.35" transform="rotate(90 1087.6 596)">15</text>
<text x="1087.6" y="687" font-size="12" text-anchor="middle" fill="#1e1e1e" stroke="#1e1e1e" stroke-width="0.35" transform="rotate(90 1087.6 687)">340</text>
<line x1="1105.5" y1="251" x2="1105.5" y2="794" stroke="#4d4d4d" stroke-width="1"/>
<path d="M1102.9 267.7L1108.1 271.09999999999997M1107.3 268.2L1107.3 269.59999999999997" stroke="#2a2a2a" stroke-width="1.15" fill="none"/>
<path d="M1102.9 275.8L1108.1 279.2M1107.3 276.3L1107.3 277.7" stroke="#2a2a2a" stroke-width="1.15" fill="none"/>
<path d="M1102.9 286.3L1108.1 289.7M1107.3 286.8L1107.3 288.2" stroke="#2a2a2a" stroke-width="1.15" fill="none"/>
<path d="M1102.9 404.3L1108.1 407.7M1107.3 404.8L1107.3 406.2" stroke="#2a2a2a" stroke-width="1.15" fill="none"/>
<path d="M1102.9 416.3L1108.1 419.7M1107.3 416.8L1107.3 418.2" stroke="#2a2a2a" stroke-width="1.15" fill="none"/>
<path d="M1102.9 575.9L1108.1 579.3000000000001M1107.3 576.4L1107.3 577.8000000000001" stroke="#2a2a2a" stroke-width="1.15" fill="none"/>
<path d="M1102.9 587.0L1108.1 590.4000000000001M1107.3 587.5L1107.3 588.9000000000001" stroke="#2a2a2a" stroke-width="1.15" fill="none"/>
<path d="M1102.9 757.3L1108.1 760.7M1107.3 757.8L1107.3 759.2" stroke="#2a2a2a" stroke-width="1.15" fill="none"/>
<path d="M1102.9 765.9L1108.1 769.3000000000001M1107.3 766.4L1107.3 767.8000000000001" stroke="#2a2a2a" stroke-width="1.15" fill="none"/>
<path d="M1102.9 775.3L1108.1 778.7M1107.3 775.8L1107.3 777.2" stroke="#2a2a2a" stroke-width="1.15" fill="none"/>
<text x="1108.5" y="259" font-size="12" text-anchor="middle" fill="#1e1e1e" stroke="#1e1e1e" stroke-width="0.35" transform="rotate(90 1108.5 259)">15</text>
<text x="1108.5" y="283" font-size="12" text-anchor="middle" fill="#1e1e1e" stroke="#1e1e1e" stroke-width="0.35" transform="rotate(90 1108.5 283)">20</text>
<text x="1108.5" y="347.5" font-size="12" text-anchor="middle" fill="#1e1e1e" stroke="#1e1e1e" stroke-width="0.35" transform="rotate(90 1108.5 347.5)">225</text>
<text x="1108.5" y="412" font-size="12" text-anchor="middle" fill="#1e1e1e" stroke="#1e1e1e" stroke-width="0.35" transform="rotate(90 1108.5 412)">20</text>
<text x="1108.5" y="499" font-size="12" text-anchor="middle" fill="#1e1e1e" stroke="#1e1e1e" stroke-width="0.35" transform="rotate(90 1108.5 499)">305</text>
<text x="1108.5" y="583" font-size="12" text-anchor="middle" fill="#1e1e1e" stroke="#1e1e1e" stroke-width="0.35" transform="rotate(90 1108.5 583)">20</text>
<text x="1108.5" y="674" font-size="12" text-anchor="middle" fill="#1e1e1e" stroke="#1e1e1e" stroke-width="0.35" transform="rotate(90 1108.5 674)">320</text>
<text x="1108.5" y="763" font-size="12" text-anchor="middle" fill="#1e1e1e" stroke="#1e1e1e" stroke-width="0.35" transform="rotate(90 1108.5 763)">20</text>
<text x="1108.5" y="778" font-size="12" text-anchor="middle" fill="#1e1e1e" stroke="#1e1e1e" stroke-width="0.35" transform="rotate(90 1108.5 778)">15</text>
<line x1="1126.4" y1="269.4" x2="1126.4" y2="777" stroke="#4d4d4d" stroke-width="1"/>
<path d="M1123.8000000000002 267.7L1129.0 271.09999999999997M1128.2 268.2L1128.2 269.59999999999997" stroke="#2a2a2a" stroke-width="1.15" fill="none"/>
<path d="M1123.8000000000002 275.8L1129.0 279.2M1128.2 276.3L1128.2 277.7" stroke="#2a2a2a" stroke-width="1.15" fill="none"/>
<path d="M1123.8000000000002 346.7L1129.0 350.09999999999997M1128.2 347.2L1128.2 348.59999999999997" stroke="#2a2a2a" stroke-width="1.15" fill="none"/>
<path d="M1123.8000000000002 400.3L1129.0 403.7M1128.2 400.8L1128.2 402.2" stroke="#2a2a2a" stroke-width="1.15" fill="none"/>
<path d="M1123.8000000000002 587.0L1129.0 590.4000000000001M1128.2 587.5L1128.2 588.9000000000001" stroke="#2a2a2a" stroke-width="1.15" fill="none"/>
<path d="M1123.8000000000002 595.3L1129.0 598.7M1128.2 595.8L1128.2 597.2" stroke="#2a2a2a" stroke-width="1.15" fill="none"/>
<path d="M1123.8000000000002 642.3L1129.0 645.7M1128.2 642.8L1128.2 644.2" stroke="#2a2a2a" stroke-width="1.15" fill="none"/>
<path d="M1123.8000000000002 765.9L1129.0 769.3000000000001M1128.2 766.4L1128.2 767.8000000000001" stroke="#2a2a2a" stroke-width="1.15" fill="none"/>
<path d="M1123.8000000000002 775.3L1129.0 778.7M1128.2 775.8L1128.2 777.2" stroke="#2a2a2a" stroke-width="1.15" fill="none"/>
<text x="1129.4" y="273" font-size="12" text-anchor="middle" fill="#1e1e1e" stroke="#1e1e1e" stroke-width="0.35" transform="rotate(90 1129.4 273)">15</text>
<text x="1129.4" y="313.5" font-size="12" text-anchor="middle" fill="#1e1e1e" stroke="#1e1e1e" stroke-width="0.35" transform="rotate(90 1129.4 313.5)">135</text>
<text x="1129.4" y="376" font-size="12" text-anchor="middle" fill="#1e1e1e" stroke="#1e1e1e" stroke-width="0.35" transform="rotate(90 1129.4 376)">100</text>
<text x="1129.4" y="495.5" font-size="12" text-anchor="middle" fill="#1e1e1e" stroke="#1e1e1e" stroke-width="0.35" transform="rotate(90 1129.4 495.5)">355</text>
<text x="1129.4" y="593" font-size="12" text-anchor="middle" fill="#1e1e1e" stroke="#1e1e1e" stroke-width="0.35" transform="rotate(90 1129.4 593)">15</text>
<text x="1129.4" y="620.6" font-size="12" text-anchor="middle" fill="#1e1e1e" stroke="#1e1e1e" stroke-width="0.35" transform="rotate(90 1129.4 620.6)">90</text>
<text x="1129.4" y="707" font-size="12" text-anchor="middle" fill="#1e1e1e" stroke="#1e1e1e" stroke-width="0.35" transform="rotate(90 1129.4 707)">235</text>
<text x="1129.4" y="772" font-size="12" text-anchor="middle" fill="#1e1e1e" stroke="#1e1e1e" stroke-width="0.35" transform="rotate(90 1129.4 772)">15</text>
<line x1="1147" y1="277.5" x2="1147" y2="769" stroke="#4d4d4d" stroke-width="1"/>
<path d="M1144.4 275.8L1149.6 279.2M1148.8 276.3L1148.8 277.7" stroke="#2a2a2a" stroke-width="1.15" fill="none"/>
<path d="M1144.4 587.0L1149.6 590.4000000000001M1148.8 587.5L1148.8 588.9000000000001" stroke="#2a2a2a" stroke-width="1.15" fill="none"/>
<path d="M1144.4 767.3L1149.6 770.7M1148.8 767.8L1148.8 769.2" stroke="#2a2a2a" stroke-width="1.15" fill="none"/>
<text x="1150" y="433.8" font-size="12" text-anchor="middle" fill="#1e1e1e" stroke="#1e1e1e" stroke-width="0.35" transform="rotate(90 1150 433.8)">590</text>
<text x="1150" y="680" font-size="12" text-anchor="middle" fill="#1e1e1e" stroke="#1e1e1e" stroke-width="0.35" transform="rotate(90 1150 680)">340</text>
<line x1="1168.4" y1="277.5" x2="1168.4" y2="769" stroke="#4d4d4d" stroke-width="1"/>
<path d="M1165.8000000000002 275.8L1171.0 279.2M1170.2 276.3L1170.2 277.7" stroke="#2a2a2a" stroke-width="1.15" fill="none"/>
<path d="M1165.8000000000002 767.3L1171.0 770.7M1170.2 767.8L1170.2 769.2" stroke="#2a2a2a" stroke-width="1.15" fill="none"/>
<text x="1171.4" y="523" font-size="12" text-anchor="middle" fill="#1e1e1e" stroke="#1e1e1e" stroke-width="0.35" transform="rotate(90 1171.4 523)">930</text>
<line x1="1189.8" y1="269.4" x2="1189.8" y2="777" stroke="#4d4d4d" stroke-width="1"/>
<path d="M1187.2 267.7L1192.3999999999999 271.09999999999997M1191.6 268.2L1191.6 269.59999999999997" stroke="#2a2a2a" stroke-width="1.15" fill="none"/>
<path d="M1187.2 775.3L1192.3999999999999 778.7M1191.6 775.8L1191.6 777.2" stroke="#2a2a2a" stroke-width="1.15" fill="none"/>
<path d="M360 375V341A64 64 0 0 1 424 277.5H445.5V288H424A53 53 0 0 0 371 341V375Z" fill="url(#hatch)" stroke="#111" stroke-width="1.3"/>
<path d="M540.75 277.5H577.5V288H540.75Z" fill="url(#hatch)" stroke="#111" stroke-width="1.3"/>
<path d="M625 277.5H686V288H670V407H681V417.5H660V288H625Z" fill="url(#hatch)" stroke="#111" stroke-width="1.3"/>
<path d="M734 277.5H866A64 64 0 0 1 930 341.5V349H919V341.5A53 53 0 0 0 866 288H734Z" fill="url(#hatch)" stroke="#111" stroke-width="1.3"/>
<path d="M734 407H930V417.5H734Z" fill="url(#hatch)" stroke="#111" stroke-width="1.3"/>
<path d="M919.4 401H930.4V521A67.5 67.5 0 0 1 863 588.5V577.5A56.5 56.5 0 0 0 919.4 521Z" fill="url(#hatch)" stroke="#111" stroke-width="1.3"/>
<path d="M360 548.5H371V592H360Z" fill="url(#hatch)" stroke="#111" stroke-width="1.3"/>
<path d="M360 687H371V707A51.5 51.5 0 0 0 422.5 758.5H497.75V769.5H422.5A62.5 62.5 0 0 1 360 707Z" fill="url(#hatch)" stroke="#111" stroke-width="1.3"/>
<path d="M545 758.5H619.6V769.5H545Z" fill="url(#hatch)" stroke="#111" stroke-width="1.3"/>
<path d="M651 758.5H655A57 57 0 0 0 712 701V644.5H723V701A68 68 0 0 1 655 769H651Z" fill="url(#hatch)" stroke="#111" stroke-width="1.3"/>
<path d="M540 578H558V592H540Z" fill="url(#hatch)" stroke="#111" stroke-width="1.3"/>
<path d="M711 578.5H730.5V590H722.5V597.5H711Z" fill="url(#hatch)" stroke="#111" stroke-width="1.3"/>
<path d="M762.5 578.5H777.5V590H762.5Z" fill="url(#hatch)" stroke="#111" stroke-width="1.3"/>
<path d="M352.5 375V341A71.5 71.5 0 0 1 424 269.5H577.5M625 269.5H866A72 72 0 0 1 938 341.5V349" fill="none" stroke="#333" stroke-width="1"/>
<path d="M577.5 269.5H625" fill="none" stroke="#333" stroke-width="1" stroke-dasharray="6 3"/>
<path d="M938 349V401" fill="none" stroke="#333" stroke-width="1" stroke-dasharray="6 3"/>
<path d="M938 401V521A75 75 0 0 1 863 596" fill="none" stroke="#333" stroke-width="1"/>
<path d="M863 597H730.5" fill="none" stroke="#333" stroke-width="1" stroke-dasharray="8 4"/>
<path d="M731 597V701A76 76 0 0 1 655 777H545M497.5 777H422.5A70 70 0 0 1 352.5 707V687" fill="none" stroke="#333" stroke-width="1"/>
<path d="M545 777.5H497.5" fill="none" stroke="#333" stroke-width="1" stroke-dasharray="8 4"/>
<path d="M352.5 375V548.5M352.5 592V687" fill="none" stroke="#333" stroke-width="1" stroke-dasharray="8 4"/>
<path d="M352.5 548.5V592" fill="none" stroke="#333" stroke-width="1"/>
<line x1="286" y1="375.4" x2="1001" y2="375.4" stroke="#222" stroke-width="1.6" stroke-dasharray="14 4 2 4"/>
<path d="M283.9 375.4H269.7V397" fill="none" stroke="#111" stroke-width="2.2"/>
<path d="M1013.7 375.4H1020.8V396.5" fill="none" stroke="#111" stroke-width="2.6"/>
<text x="279" y="384.5" font-size="14" text-anchor="middle" dominant-baseline="central" fill="#111" transform="rotate(180 279 384.5) scale(1 1)">A</text>
<text x="1012.5" y="384.5" font-size="14" text-anchor="middle" dominant-baseline="central" fill="#111" transform="rotate(180 1012.5 384.5)">A</text>
<rect x="427" y="212.5" width="15.5" height="38.5" fill="#fff" stroke="#222" stroke-width="1.2"/>
<text x="434.75" y="231.75" font-size="15" font-weight="bold" text-anchor="middle" dominant-baseline="central" fill="#111" stroke="#111" stroke-width="0.55" transform="rotate(90 434.75 231.75)">VZ2</text>
<line x1="434.7" y1="251" x2="434.7" y2="277.5" stroke="#222" stroke-width="1"/>
<rect x="552" y="212.5" width="15" height="38.5" fill="#fff" stroke="#222" stroke-width="1.2"/>
<text x="559.5" y="231.75" font-size="15" font-weight="bold" text-anchor="middle" dominant-baseline="central" fill="#111" stroke="#111" stroke-width="0.55" transform="rotate(90 559.5 231.75)">VZ2</text>
<line x1="559.5" y1="251" x2="559.5" y2="277.5" stroke="#222" stroke-width="1"/>
<rect x="648" y="212.5" width="15" height="38.5" fill="#fff" stroke="#222" stroke-width="1.2"/>
<text x="655.5" y="231.75" font-size="15" font-weight="bold" text-anchor="middle" dominant-baseline="central" fill="#111" stroke="#111" stroke-width="0.55" transform="rotate(90 655.5 231.75)">VZ2</text>
<line x1="655.5" y1="251" x2="655.5" y2="277.5" stroke="#222" stroke-width="1"/>
<rect x="792.5" y="212.5" width="15.0" height="38.5" fill="#fff" stroke="#222" stroke-width="1.2"/>
<text x="800.0" y="231.75" font-size="13" font-weight="bold" text-anchor="middle" dominant-baseline="central" fill="#111" stroke="#111" stroke-width="0.55" transform="rotate(90 800.0 231.75)" textLength="36" lengthAdjust="spacingAndGlyphs">VZ2/4</text>
<line x1="800" y1="251" x2="800" y2="277.5" stroke="#222" stroke-width="1"/>
<rect x="296.2" y="350.6" width="38.19999999999999" height="15.699999999999989" fill="#fff" stroke="#222" stroke-width="1.2"/>
<text x="315.29999999999995" y="358.45000000000005" font-size="14" font-weight="bold" text-anchor="middle" dominant-baseline="central" fill="#111" stroke="#111" stroke-width="0.55" textLength="28" lengthAdjust="spacingAndGlyphs">VZ2</text>
<line x1="334.4" y1="358.3" x2="360" y2="358.3" stroke="#222" stroke-width="1"/>
<rect x="956.3" y="333.4" width="38.200000000000045" height="15.300000000000011" fill="#fff" stroke="#222" stroke-width="1.2"/>
<text x="975.4" y="341.04999999999995" font-size="13" font-weight="bold" text-anchor="middle" dominant-baseline="central" fill="#111" stroke="#111" stroke-width="0.55" textLength="37" lengthAdjust="spacingAndGlyphs">VZ/24</text>
<line x1="930.4" y1="340.5" x2="956.3" y2="340.5" stroke="#222" stroke-width="1"/>
<line x1="493" y1="180" x2="493" y2="288" stroke="#333" stroke-width="1"/>
<circle cx="493" cy="221" r="10.3" fill="none" stroke="#333" stroke-width="1"/>
<line x1="482.5" y1="221" x2="503.5" y2="221" stroke="#333" stroke-width="0.9"/>
<path d="M493 221H487.5A5.5 5.5 0 0 1 493 215.5ZM493 221H498.5A5.5 5.5 0 0 1 493 226.5Z" fill="#111"/>
<circle cx="493" cy="221" r="5.5" fill="none" stroke="#111" stroke-width="1.1"/>
<text x="496.5" y="186" font-size="12" text-anchor="start" fill="#1e1e1e" stroke="#1e1e1e" stroke-width="0.35" transform="rotate(90 496.5 186)">-0,05</text>
<text x="480" y="236" font-size="12" text-anchor="start" fill="#1e1e1e" stroke="#1e1e1e" stroke-width="0.35" transform="rotate(90 480 236)" textLength="32.3" lengthAdjust="spacingAndGlyphs">140+20</text>
<text x="496.5" y="247" font-size="12" text-anchor="start" fill="#1e1e1e" stroke="#1e1e1e" stroke-width="0.35" transform="rotate(90 496.5 247)" textLength="16.0" lengthAdjust="spacingAndGlyphs">180</text>
<line x1="601.8" y1="180" x2="601.8" y2="288" stroke="#333" stroke-width="1"/>
<circle cx="601.8" cy="221" r="10.3" fill="none" stroke="#333" stroke-width="1"/>
<line x1="591.3" y1="221" x2="612.3" y2="221" stroke="#333" stroke-width="0.9"/>
<path d="M601.8 221H596.3A5.5 5.5 0 0 1 601.8 215.5ZM601.8 221H607.3A5.5 5.5 0 0 1 601.8 226.5Z" fill="#111"/>
<circle cx="601.8" cy="221" r="5.5" fill="none" stroke="#111" stroke-width="1.1"/>
<text x="605" y="186" font-size="12" text-anchor="start" fill="#1e1e1e" stroke="#1e1e1e" stroke-width="0.35" transform="rotate(90 605 186)">-0,05</text>
<text x="589" y="236" font-size="12" text-anchor="start" fill="#1e1e1e" stroke="#1e1e1e" stroke-width="0.35" transform="rotate(90 589 236)" textLength="32.3" lengthAdjust="spacingAndGlyphs">240+20</text>
<text x="605" y="256" font-size="12" text-anchor="start" fill="#1e1e1e" stroke="#1e1e1e" stroke-width="0.35" transform="rotate(90 605 256)" textLength="10.7" lengthAdjust="spacingAndGlyphs">90</text>
<line x1="710" y1="180" x2="710" y2="288" stroke="#555" stroke-width="1"/>
<line x1="707.5" y1="238" x2="707.5" y2="621" stroke="#222" stroke-width="1.7" stroke-dasharray="14 4 2 4"/>
<circle cx="710" cy="221" r="10.9" fill="none" stroke="#333" stroke-width="1"/>
<line x1="699.5" y1="221" x2="720.5" y2="221" stroke="#333" stroke-width="0.9"/>
<path d="M710 221H704.5A5.5 5.5 0 0 1 710 215.5ZM710 221H715.5A5.5 5.5 0 0 1 710 226.5Z" fill="#111"/>
<circle cx="710" cy="221" r="5.5" fill="none" stroke="#111" stroke-width="1.1"/>
<text x="712" y="185" font-size="12" text-anchor="start" fill="#1e1e1e" stroke="#1e1e1e" stroke-width="0.35" transform="rotate(90 712 185)">+1,40</text>
<path d="M728.8 212.7H707.5V226" fill="none" stroke="#111" stroke-width="2.6"/>
<text x="714" y="221" font-size="10" text-anchor="middle" fill="#1e1e1e" stroke="#1e1e1e" stroke-width="0.35" transform="rotate(90 714 221)">B</text>
<text x="697" y="240" font-size="12" text-anchor="start" fill="#1e1e1e" stroke="#1e1e1e" stroke-width="0.35" transform="rotate(90 697 240)" textLength="27.0" lengthAdjust="spacingAndGlyphs">95+20</text>
<text x="712.7" y="250" font-size="12" text-anchor="start" fill="#1e1e1e" stroke="#1e1e1e" stroke-width="0.35" transform="rotate(90 712.7 250)" textLength="10.7" lengthAdjust="spacingAndGlyphs">90</text>
<line x1="985.4" y1="364" x2="985.4" y2="417.5" stroke="#333" stroke-width="1"/>
<circle cx="985.4" cy="375.4" r="10.3" fill="none" stroke="#333" stroke-width="1"/>
<line x1="974.9" y1="375.4" x2="995.9" y2="375.4" stroke="#333" stroke-width="0.9"/>
<path d="M985.4 375.4H979.9A5.5 5.5 0 0 1 985.4 369.9ZM985.4 375.4H990.9A5.5 5.5 0 0 1 985.4 380.9Z" fill="#111"/>
<circle cx="985.4" cy="375.4" r="5.5" fill="none" stroke="#111" stroke-width="1.1"/>
<text x="988" y="385" font-size="12" text-anchor="start" fill="#1e1e1e" stroke="#1e1e1e" stroke-width="0.35" transform="rotate(90 988 385)">+1,40</text>
<text x="955.7" y="372.6" font-size="12" text-anchor="middle" fill="#1e1e1e" stroke="#1e1e1e" stroke-width="0.35" textLength="16.0" lengthAdjust="spacingAndGlyphs">100</text>
<text x="953.8" y="388" font-size="12" text-anchor="middle" fill="#1e1e1e" stroke="#1e1e1e" stroke-width="0.35" textLength="32.3" lengthAdjust="spacingAndGlyphs">385+20</text>
<path d="M445.5 269.5V288M540.75 269.5V288" fill="none" stroke="#333" stroke-width="1"/>
<path d="M445.5 284.5H540.75M445.5 287.3H540.75" fill="none" stroke="#555" stroke-width="1"/>
<line x1="493" y1="284.5" x2="493" y2="288" stroke="#555" stroke-width="1"/>
<path d="M577.5 269.5V289M625 269.5V289" fill="none" stroke="#333" stroke-width="1"/>
<path d="M577.5 282.5H625M577.5 289H625" fill="none" stroke="#444" stroke-width="1"/>
<path d="M580 289V330H592" fill="none" stroke="#3a3a3a" stroke-width="1"/>
<path d="M622 289A42 42 0 0 1 589 330" fill="none" stroke="#3a3a3a" stroke-width="1"/>
<line x1="591.3" y1="309" x2="612.3" y2="309" stroke="#333" stroke-width="0.9"/>
<path d="M601.8 309H596.3A5.5 5.5 0 0 1 601.8 303.5ZM601.8 309H607.3A5.5 5.5 0 0 1 601.8 314.5Z" fill="#111"/>
<circle cx="601.8" cy="309" r="5.5" fill="none" stroke="#111" stroke-width="1.1"/>
<text x="607" y="315" font-size="12" text-anchor="start" fill="#1e1e1e" stroke="#1e1e1e" stroke-width="0.35" transform="rotate(90 607 315)">±0,00</text>
<text x="594.5" y="317" font-size="12" text-anchor="start" fill="#1e1e1e" stroke="#1e1e1e" stroke-width="0.35" transform="rotate(90 594.5 317)">-0,20</text>
<rect x="403.75" y="293.75" width="90" height="10" fill="none" stroke="#3a3a3a" stroke-width="1" rx="2"/>
<rect x="403.75" y="303.75" width="90" height="32.5" fill="none" stroke="#3a3a3a" stroke-width="1"/>
<line x1="431" y1="303.75" x2="431" y2="336.25" stroke="#3a3a3a" stroke-width="1"/>
<line x1="462.5" y1="303.75" x2="462.5" y2="336.25" stroke="#3a3a3a" stroke-width="1"/>
<rect x="395.5" y="298.75" width="8.25" height="32.5" fill="none" stroke="#3a3a3a" stroke-width="1" rx="3"/>
<path d="M493.75 293.75H534Q538.75 293.75 538.75 298.5V408Q538.75 412 534 412H527.5" fill="none" stroke="#3a3a3a" stroke-width="1"/>
<path d="M493.75 303.75H515Q527.5 303.75 527.5 318V408" fill="none" stroke="#3a3a3a" stroke-width="1"/>
<path d="M495 336H527.5M495 336V406" fill="none" stroke="#3a3a3a" stroke-width="1"/>
<rect x="500" y="406" width="32.5" height="9" fill="none" stroke="#3a3a3a" stroke-width="1" rx="3"/>
<text x="508" y="300" font-size="10.5" text-anchor="middle" fill="#1e1e1e" stroke="#1e1e1e" stroke-width="0.35">P100</text>
<path d="M386.5 303.6L424.4 340.4V288" fill="none" stroke="#3a3a3a" stroke-width="1"/>
<text x="407" y="320" font-size="12.5" text-anchor="middle" fill="#1e1e1e" stroke="#1e1e1e" stroke-width="0.35" transform="rotate(47 407 320)">R100</text>
<text x="426.5" y="294" font-size="12" text-anchor="start" fill="#1e1e1e" stroke="#1e1e1e" stroke-width="0.35" transform="rotate(90 426.5 294)">R120</text>
<rect x="416" y="351" width="64" height="38" fill="none" stroke="#3a3a3a" stroke-width="1" rx="5"/>
<line x1="525.5" y1="288" x2="525.5" y2="760" stroke="#333" stroke-width="1"/>
<text x="527" y="424.5" font-size="12" text-anchor="start" fill="#1e1e1e" stroke="#1e1e1e" stroke-width="0.35" transform="rotate(90 527 424.5)">550</text>
<path d="M523.8 420.1L527.2 414.9M524.3 415.7L525.7 415.7" stroke="#2a2a2a" stroke-width="1.15" fill="none"/>
<rect x="540" y="290" width="37.5" height="127.5" fill="none" stroke="#3a3a3a" stroke-width="1"/>
<line x1="545" y1="290" x2="545" y2="417.5" stroke="#3a3a3a" stroke-width="1"/>
<path d="M547.5 322V316H553M569.5 316H575V322M575 338V344H569.5M553 344H547.5V338" fill="none" stroke="#3a3a3a" stroke-width="1"/>
<path d="M555 321H568L561.5 327V334M556 338H567" fill="none" stroke="#3a3a3a" stroke-width="1"/>
<rect x="553.75" y="350" width="21.25" height="15" fill="none" stroke="#3a3a3a" stroke-width="1" rx="2.5"/>
<rect x="553.75" y="367.5" width="21.25" height="15" fill="none" stroke="#3a3a3a" stroke-width="1" rx="2.5"/>
<rect x="625" y="289" width="35" height="128.5" fill="none" stroke="#3a3a3a" stroke-width="1"/>
<circle cx="633.75" cy="297.5" r="5" fill="none" stroke="#3a3a3a" stroke-width="1"/>
<circle cx="633.75" cy="313.75" r="5" fill="none" stroke="#3a3a3a" stroke-width="1"/>
<circle cx="650" cy="297.5" r="5" fill="none" stroke="#3a3a3a" stroke-width="1"/>
<circle cx="650" cy="313.75" r="5" fill="none" stroke="#3a3a3a" stroke-width="1"/>
<text x="644.5" y="342" font-size="12" text-anchor="start" fill="#1e1e1e" stroke="#1e1e1e" stroke-width="0.35" transform="rotate(90 644.5 342)">245</text>
<rect x="625" y="386" width="31" height="31.5" fill="none" stroke="#3a3a3a" stroke-width="1"/>
<line x1="651.5" y1="386" x2="651.5" y2="417.5" stroke="#555" stroke-width="0.5"/>
<line x1="652.3" y1="386" x2="652.3" y2="417.5" stroke="#555" stroke-width="0.5"/>
<line x1="653.1" y1="386" x2="653.1" y2="417.5" stroke="#555" stroke-width="0.5"/>
<line x1="653.9" y1="386" x2="653.9" y2="417.5" stroke="#555" stroke-width="0.5"/>
<line x1="654.7" y1="386" x2="654.7" y2="417.5" stroke="#555" stroke-width="0.5"/>
<line x1="655.5" y1="386" x2="655.5" y2="417.5" stroke="#555" stroke-width="0.5"/>
<path d="M368.5 375V548.5M371 375V548.5" fill="none" stroke="#555" stroke-width="1"/>
<path d="M368.5 592V687M371 592V687" fill="none" stroke="#555" stroke-width="1"/>
<rect x="367.5" y="428.6" width="4" height="10" fill="#fff" stroke="#555" stroke-width="0.8"/>
<rect x="367.5" y="487.5" width="4" height="8" fill="#fff" stroke="#555" stroke-width="0.8"/>
<path d="M449.4 545.4L376.3 448.9A121 121 0 0 1 521.5 448.9Z" fill="none" stroke="#444" stroke-width="1" stroke-dasharray="5 3"/>
<path d="M432 417H466Q471 417 471 422V450M432 417Q426 417 426 422V450" fill="none" stroke="#444" stroke-width="1" stroke-dasharray="4 2.5"/>
<rect x="426" y="420" width="8" height="30" fill="none" stroke="#444" stroke-width="1" rx="3" stroke-dasharray="4 2.5"/>
<rect x="463.7" y="420" width="8" height="30" fill="none" stroke="#444" stroke-width="1" rx="3" stroke-dasharray="4 2.5"/>
<rect x="434" y="444" width="29.5" height="12" fill="none" stroke="#444" stroke-width="1" rx="3" stroke-dasharray="4 2.5"/>
<line x1="390.5" y1="454" x2="390.5" y2="474" stroke="#333" stroke-width="1"/>
<line x1="380.5" y1="463" x2="400.5" y2="463" stroke="#333" stroke-width="1"/>
<line x1="380.0" y1="463" x2="401.0" y2="463" stroke="#333" stroke-width="0.9"/>
<path d="M390.5 463H385.0A5.5 5.5 0 0 1 390.5 457.5ZM390.5 463H396.0A5.5 5.5 0 0 1 390.5 468.5Z" fill="#111"/>
<circle cx="390.5" cy="463" r="5.5" fill="none" stroke="#111" stroke-width="1.1"/>
<text x="393.5" y="471" font-size="12" text-anchor="start" fill="#1e1e1e" stroke="#1e1e1e" stroke-width="0.35" transform="rotate(90 393.5 471)">±0,00</text>
<text x="381" y="471" font-size="12" text-anchor="start" fill="#1e1e1e" stroke="#1e1e1e" stroke-width="0.35" transform="rotate(90 381 471)">-0,20</text>
<rect x="524.5" y="478.4" width="53.9" height="69" fill="none" stroke="#3a3a3a" stroke-width="1"/>
<rect x="501.5" y="488.5" width="21" height="21.5" fill="none" stroke="#3a3a3a" stroke-width="1"/>
<rect x="498" y="488.5" width="3" height="21.5" fill="none" stroke="#3a3a3a" stroke-width="1"/>
<rect x="501.5" y="515" width="21" height="21.5" fill="none" stroke="#3a3a3a" stroke-width="1"/>
<rect x="498" y="515" width="3" height="21.5" fill="none" stroke="#3a3a3a" stroke-width="1"/>
<rect x="579.4" y="488.5" width="21" height="21.5" fill="none" stroke="#3a3a3a" stroke-width="1"/>
<rect x="600.9" y="488.5" width="3" height="21.5" fill="none" stroke="#3a3a3a" stroke-width="1"/>
<rect x="579.4" y="515" width="21" height="21.5" fill="none" stroke="#3a3a3a" stroke-width="1"/>
<rect x="600.9" y="515" width="3" height="21.5" fill="none" stroke="#3a3a3a" stroke-width="1"/>
<text x="559.5" y="481" font-size="10" text-anchor="start" fill="#8b93ad" stroke="#8b93ad" stroke-width="0.2" transform="rotate(90 559.5 481)">kuh.+blag.+d.b.</text>
<text x="548.0" y="481" font-size="10" text-anchor="start" fill="#8b93ad" stroke="#8b93ad" stroke-width="0.2" transform="rotate(90 548.0 481)">ker.p.-P1</text>
<text x="536.5" y="481" font-size="10" text-anchor="start" fill="#8b93ad" stroke="#8b93ad" stroke-width="0.2" transform="rotate(90 536.5 481)">P=29,76m2</text>
<circle cx="303.5" cy="463" r="10.5" fill="none" stroke="#333" stroke-width="1"/>
<line x1="293.0" y1="463" x2="314.0" y2="463" stroke="#333" stroke-width="0.9"/>
<path d="M303.5 463H298.0A5.5 5.5 0 0 1 303.5 457.5ZM303.5 463H309.0A5.5 5.5 0 0 1 303.5 468.5Z" fill="#111"/>
<circle cx="303.5" cy="463" r="5.5" fill="none" stroke="#111" stroke-width="1.1"/>
<line x1="314" y1="462" x2="368.5" y2="462" stroke="#333" stroke-width="1"/>
<line x1="303.5" y1="463" x2="303.5" y2="500" stroke="#333" stroke-width="1"/>
<text x="338" y="457" font-size="12" text-anchor="middle" fill="#1e1e1e" stroke="#1e1e1e" stroke-width="0.35" textLength="16.0" lengthAdjust="spacingAndGlyphs">330</text>
<text x="336" y="476.5" font-size="12" text-anchor="middle" fill="#1e1e1e" stroke="#1e1e1e" stroke-width="0.35" textLength="32.3" lengthAdjust="spacingAndGlyphs">240+20</text>
<text x="306" y="476" font-size="12" text-anchor="start" fill="#1e1e1e" stroke="#1e1e1e" stroke-width="0.35" transform="rotate(90 306 476)">-0,05</text>
<path d="M686 269.5V288M734 269.5V288" fill="none" stroke="#333" stroke-width="1"/>
<path d="M686 285H734M686 287.5H734" fill="none" stroke="#555" stroke-width="1"/>
<text x="725.4" y="299.2" font-size="10.5" text-anchor="middle" fill="#1e1e1e" stroke="#1e1e1e" stroke-width="0.35">P145</text>
<rect x="675.7" y="299.2" width="37.39999999999998" height="14.800000000000011" fill="#fff" stroke="#222" stroke-width="1.2"/>
<text x="694.4000000000001" y="306.6" font-size="13.5" font-weight="bold" text-anchor="middle" dominant-baseline="central" fill="#111" stroke="#111" stroke-width="0.55" textLength="27" lengthAdjust="spacingAndGlyphs">UZ1</text>
<line x1="670.5" y1="306.5" x2="675.7" y2="306.5" stroke="#222" stroke-width="1"/>
<line x1="674.4" y1="288" x2="674.4" y2="404" stroke="#555" stroke-width="1"/>
<line x1="675.7" y1="316" x2="675.7" y2="348" stroke="#8b93ad" stroke-width="1"/>
<text x="677" y="323.7" font-size="10.5" text-anchor="start" fill="#8b93ad" stroke="#8b93ad" stroke-width="0.2">stubišni  prostor</text>
<text x="677" y="335.4" font-size="10.5" text-anchor="start" fill="#8b93ad" stroke="#8b93ad" stroke-width="0.2">ker.pl.-P1</text>
<text x="677" y="347.09999999999997" font-size="10.5" text-anchor="start" fill="#8b93ad" stroke="#8b93ad" stroke-width="0.2">P=7,79m2</text>
<path d="M736.6 288V404.5M741.4 349.5V404.5" fill="none" stroke="#3a3a3a" stroke-width="1"/>
<line x1="752.1" y1="288" x2="752.1" y2="343.5" stroke="#3a3a3a" stroke-width="1"/>
<line x1="766.4" y1="288" x2="766.4" y2="343.5" stroke="#3a3a3a" stroke-width="1"/>
<line x1="781.4" y1="288" x2="781.4" y2="343.5" stroke="#3a3a3a" stroke-width="1" stroke-dasharray="4 2.5"/>
<line x1="796.3" y1="288" x2="796.3" y2="343.5" stroke="#3a3a3a" stroke-width="1" stroke-dasharray="4 2.5"/>
<line x1="825.6" y1="288" x2="825.6" y2="343.5" stroke="#3a3a3a" stroke-width="1" stroke-dasharray="4 2.5"/>
<line x1="840.5" y1="288" x2="840.5" y2="343.5" stroke="#3a3a3a" stroke-width="1" stroke-dasharray="4 2.5"/>
<line x1="811.2" y1="288" x2="811.2" y2="407" stroke="#3a3a3a" stroke-width="1"/>
<line x1="850.7" y1="288" x2="850.7" y2="343.5" stroke="#3a3a3a" stroke-width="1"/>
<line x1="855.5" y1="288" x2="855.5" y2="407" stroke="#3a3a3a" stroke-width="1"/>
<line x1="752.1" y1="349.5" x2="752.1" y2="404" stroke="#555" stroke-width="1" stroke-dasharray="4 2.5"/>
<line x1="766.4" y1="349.5" x2="766.4" y2="404" stroke="#555" stroke-width="1" stroke-dasharray="4 2.5"/>
<line x1="781.4" y1="349.5" x2="781.4" y2="404" stroke="#555" stroke-width="1" stroke-dasharray="4 2.5"/>
<line x1="796.3" y1="349.5" x2="796.3" y2="404" stroke="#555" stroke-width="1" stroke-dasharray="4 2.5"/>
<line x1="825.6" y1="349.5" x2="825.6" y2="404" stroke="#555" stroke-width="1" stroke-dasharray="4 2.5"/>
<line x1="840.5" y1="349.5" x2="840.5" y2="404" stroke="#555" stroke-width="1" stroke-dasharray="4 2.5"/>
<line x1="855.5" y1="349.5" x2="855.5" y2="404" stroke="#555" stroke-width="1" stroke-dasharray="4 2.5"/>
<path d="M736.6 343.5H850.7M741.4 349.5H855.5" fill="none" stroke="#3a3a3a" stroke-width="1"/>
<line x1="796.3" y1="288.6" x2="766.4" y2="343.5" stroke="#3a3a3a" stroke-width="1"/>
<line x1="737" y1="315.8" x2="880" y2="315.8" stroke="#222" stroke-width="1.8" stroke-dasharray="12 4 2 4"/>
<path d="M773 311.5L781 315.8" fill="none" stroke="#333" stroke-width="1"/>
<text x="759" y="313" font-size="12" text-anchor="middle" fill="#1e1e1e" stroke="#1e1e1e" stroke-width="0.35">8x28</text>
<text x="759.5" y="328" font-size="12" text-anchor="middle" fill="#1e1e1e" stroke="#1e1e1e" stroke-width="0.35">9x16,11</text>
<path d="M736.6 400H783.8" fill="none" stroke="#3a3a3a" stroke-width="1"/>
<path d="M737.5 355A45 45 0 0 1 783.5 400" fill="none" stroke="#3a3a3a" stroke-width="1"/>
<text x="753.5" y="375" font-size="12" text-anchor="middle" fill="#1e1e1e" stroke="#1e1e1e" stroke-width="0.35" textLength="11.3" lengthAdjust="spacingAndGlyphs">80</text>
<text x="755" y="390" font-size="12" text-anchor="middle" fill="#1e1e1e" stroke="#1e1e1e" stroke-width="0.35" textLength="17.0" lengthAdjust="spacingAndGlyphs">220</text>
<text x="770" y="369.5" font-size="10.5" text-anchor="start" fill="#8b93ad" stroke="#8b93ad" stroke-width="0.2">spremište</text>
<text x="770" y="381.0" font-size="10.5" text-anchor="start" fill="#8b93ad" stroke="#8b93ad" stroke-width="0.2">ker.pl.-P1</text>
<text x="770" y="392.5" font-size="10.5" text-anchor="start" fill="#8b93ad" stroke="#8b93ad" stroke-width="0.2">P=4,68m2</text>
<line x1="769.4" y1="362" x2="769.4" y2="394" stroke="#8b93ad" stroke-width="1"/>
<text x="813.6" y="306" font-size="12" text-anchor="start" fill="#1e1e1e" stroke="#1e1e1e" stroke-width="0.35" transform="rotate(90 813.6 306)">105</text>
<text x="813.6" y="337" font-size="12" text-anchor="start" fill="#1e1e1e" stroke="#1e1e1e" stroke-width="0.35" transform="rotate(90 813.6 337)">100</text>
<text x="813.6" y="372" font-size="12" text-anchor="start" fill="#1e1e1e" stroke="#1e1e1e" stroke-width="0.35" transform="rotate(90 813.6 372)">90</text>
<text x="813.6" y="396" font-size="12" text-anchor="start" fill="#1e1e1e" stroke="#1e1e1e" stroke-width="0.35" transform="rotate(90 813.6 396)">10</text>
<path d="M809.5 346.1L812.9000000000001 340.9M810.0 341.7L811.4000000000001 341.7" stroke="#2a2a2a" stroke-width="1.15" fill="none"/>
<path d="M809.5 352.1L812.9000000000001 346.9M810.0 347.7L811.4000000000001 347.7" stroke="#2a2a2a" stroke-width="1.15" fill="none"/>
<path d="M809.5 407.1L812.9000000000001 401.9M810.0 402.7L811.4000000000001 402.7" stroke="#2a2a2a" stroke-width="1.15" fill="none"/>
<line x1="830.5" y1="396.7" x2="851.5" y2="396.7" stroke="#333" stroke-width="0.9"/>
<path d="M841 396.7H835.5A5.5 5.5 0 0 1 841 391.2ZM841 396.7H846.5A5.5 5.5 0 0 1 841 402.2Z" fill="#111"/>
<circle cx="841" cy="396.7" r="5.5" fill="none" stroke="#111" stroke-width="1.1"/>
<text x="843" y="361" font-size="12" text-anchor="start" fill="#1e1e1e" stroke="#1e1e1e" stroke-width="0.35" transform="rotate(90 843 361)">±0,00</text>
<text x="830.5" y="364" font-size="12" text-anchor="start" fill="#1e1e1e" stroke="#1e1e1e" stroke-width="0.35" transform="rotate(90 830.5 364)">-0,20</text>
<line x1="674.4" y1="404.4" x2="736" y2="404.4" stroke="#555" stroke-width="1" stroke-dasharray="6 3"/>
<circle cx="708" cy="396" r="10.3" fill="none" stroke="#333" stroke-width="1"/>
<line x1="697.5" y1="396" x2="718.5" y2="396" stroke="#333" stroke-width="0.9"/>
<path d="M708 396H702.5A5.5 5.5 0 0 1 708 390.5ZM708 396H713.5A5.5 5.5 0 0 1 708 401.5Z" fill="#111"/>
<circle cx="708" cy="396" r="5.5" fill="none" stroke="#111" stroke-width="1.1"/>
<text x="709.5" y="361" font-size="12" text-anchor="start" fill="#1e1e1e" stroke="#1e1e1e" stroke-width="0.35" transform="rotate(90 709.5 361)">±0,00</text>
<text x="697.5" y="362" font-size="12" text-anchor="start" fill="#1e1e1e" stroke="#1e1e1e" stroke-width="0.35" transform="rotate(90 697.5 362)">-0,20</text>
<path d="M709 367A11 11 0 0 1 709 389" fill="none" stroke="#3a3a3a" stroke-width="1"/>
<path d="M680.8 417.5V441M682.8 417.5V441" fill="none" stroke="#555" stroke-width="1"/>
<text x="869" y="295" font-size="12" text-anchor="start" fill="#1e1e1e" stroke="#1e1e1e" stroke-width="0.35" transform="rotate(90 869 295)">R120</text>
<path d="M877.5 316H887.5V340M866 340L901 305" fill="none" stroke="#3a3a3a" stroke-width="1"/>
<text x="887" y="327" font-size="12" text-anchor="middle" fill="#1e1e1e" stroke="#1e1e1e" stroke-width="0.35" transform="rotate(122 887 327)">R100</text>
<path d="M919 349H938M919 401H938" fill="none" stroke="#333" stroke-width="1"/>
<path d="M918 350V401M871.5 401A47 47 0 0 1 918 354" fill="none" stroke="#3a3a3a" stroke-width="1"/>
<line x1="893.5" y1="375" x2="914.5" y2="375" stroke="#333" stroke-width="0.9"/>
<path d="M904 375H898.5A5.5 5.5 0 0 1 904 369.5ZM904 375H909.5A5.5 5.5 0 0 1 904 380.5Z" fill="#111"/>
<circle cx="904" cy="375" r="5.5" fill="none" stroke="#111" stroke-width="1.1"/>
<text x="907" y="338" font-size="12" text-anchor="start" fill="#1e1e1e" stroke="#1e1e1e" stroke-width="0.35" transform="rotate(90 907 338)">+1,45</text>
<text x="894" y="345" font-size="12" text-anchor="start" fill="#1e1e1e" stroke="#1e1e1e" stroke-width="0.35" transform="rotate(90 894 345)">+1,30</text>
<path d="M887.5 340V375H904" fill="none" stroke="#333" stroke-width="1"/>
<line x1="888" y1="375.4" x2="975" y2="375.4" stroke="#222" stroke-width="1.2"/>
<path d="M659.5 417.5V444M666 417.5V444" fill="none" stroke="#444" stroke-width="1" stroke-dasharray="4 2"/>
<path d="M661 446V549M664 446V549" fill="none" stroke="#3a3a3a" stroke-width="1"/>
<path d="M730.6 412.8V466" fill="none" stroke="#3a3a3a" stroke-width="1"/>
<path d="M682.8 412.8A47.8 47.8 0 0 0 730.6 460.6" fill="none" stroke="#3a3a3a" stroke-width="1"/>
<text x="695.5" y="422" font-size="12" text-anchor="start" fill="#1e1e1e" stroke="#1e1e1e" stroke-width="0.35" transform="rotate(90 695.5 422)">220</text>
<text x="710.5" y="422" font-size="12" text-anchor="start" fill="#1e1e1e" stroke="#1e1e1e" stroke-width="0.35" transform="rotate(90 710.5 422)">100</text>
<circle cx="644" cy="445" r="10.3" fill="none" stroke="#3a3a3a" stroke-width="1"/>
<text x="641" y="434" font-size="12" text-anchor="start" fill="#1e1e1e" stroke="#1e1e1e" stroke-width="0.35" transform="rotate(90 641 434)">110</text>
<text x="677" y="444" font-size="12" text-anchor="middle" fill="#1e1e1e" stroke="#1e1e1e" stroke-width="0.35" textLength="15.3" lengthAdjust="spacingAndGlyphs">110</text>
<text x="678" y="460" font-size="12" text-anchor="middle" fill="#1e1e1e" stroke="#1e1e1e" stroke-width="0.35" textLength="16.0" lengthAdjust="spacingAndGlyphs">220</text>
<circle cx="755" cy="444" r="10.3" fill="none" stroke="#3a3a3a" stroke-width="1"/>
<text x="760.0" y="419" font-size="10" text-anchor="start" fill="#8b93ad" stroke="#8b93ad" stroke-width="0.2" transform="rotate(90 760.0 419)">ulazni hodnik</text>
<text x="748.5" y="419" font-size="10" text-anchor="start" fill="#8b93ad" stroke="#8b93ad" stroke-width="0.2" transform="rotate(90 748.5 419)">ker.pl.-P1</text>
<text x="737.0" y="419" font-size="10" text-anchor="start" fill="#8b93ad" stroke="#8b93ad" stroke-width="0.2" transform="rotate(90 737.0 419)">P=3,31m2</text>
<path d="M771 417.5V578.5M777.5 417.5V578.5" fill="none" stroke="#3a3a3a" stroke-width="1"/>
<text x="787" y="442" font-size="12" text-anchor="middle" fill="#1e1e1e" stroke="#1e1e1e" stroke-width="0.35" textLength="10.7" lengthAdjust="spacingAndGlyphs">90</text>
<text x="789" y="457" font-size="12" text-anchor="middle" fill="#1e1e1e" stroke="#1e1e1e" stroke-width="0.35" textLength="16.0" lengthAdjust="spacingAndGlyphs">220</text>
<path d="M772 465.5A48 48 0 0 0 820 417.5" fill="none" stroke="#3a3a3a" stroke-width="1"/>
<line x1="760" y1="444.7" x2="805" y2="444.7" stroke="#3a3a3a" stroke-width="1"/>
<line x1="811.6" y1="404" x2="811.6" y2="578.5" stroke="#333" stroke-width="1"/>
<path d="M809.9 420.1L813.3000000000001 414.9M810.4 415.7L811.8000000000001 415.7" stroke="#2a2a2a" stroke-width="1.15" fill="none"/>
<path d="M809.9 469.6L813.3000000000001 464.4M810.4 465.2L811.8000000000001 465.2" stroke="#2a2a2a" stroke-width="1.15" fill="none"/>
<text x="814" y="438" font-size="12" text-anchor="start" fill="#1e1e1e" stroke="#1e1e1e" stroke-width="0.35" transform="rotate(90 814 438)">90</text>
<line x1="730" y1="508" x2="760" y2="508" stroke="#777" stroke-width="2.2"/>
<rect x="667" y="476.6" width="101" height="22.4" fill="none" stroke="#3a3a3a" stroke-width="1"/>
<rect x="672.5" y="480" width="38.5" height="14" fill="#fff" stroke="#222" stroke-width="1.2"/>
<text x="691.75" y="487.0" font-size="14" font-weight="bold" text-anchor="middle" dominant-baseline="central" fill="#111" stroke="#111" stroke-width="0.55" transform="rotate(180 691.75 487.0)" textLength="30" lengthAdjust="spacingAndGlyphs">PZ1</text>
<rect x="724" y="480" width="39.5" height="14" fill="#fff" stroke="#222" stroke-width="1.2"/>
<text x="743.75" y="487.0" font-size="14" font-weight="bold" text-anchor="middle" dominant-baseline="central" fill="#111" stroke="#111" stroke-width="0.55" transform="rotate(180 743.75 487.0)" textLength="30" lengthAdjust="spacingAndGlyphs">PZ1</text>
<line x1="661" y1="487.3" x2="672.5" y2="487.3" stroke="#222" stroke-width="1"/>
<line x1="763.5" y1="487.3" x2="774" y2="487.3" stroke="#222" stroke-width="1"/>
<path d="M664 499H772M664 502.5H772" fill="none" stroke="#3a3a3a" stroke-width="1"/>
<path d="M665 505H770V578M665 505V600" fill="none" stroke="#3a3a3a" stroke-width="1"/>
<rect x="691" y="509" width="31" height="25" fill="none" stroke="#3a3a3a" stroke-width="1"/>
<rect x="693.5" y="514" width="26" height="16" fill="none" stroke="#3a3a3a" stroke-width="1"/>
<text x="668" y="519" font-size="10.5" text-anchor="start" fill="#8b93ad" stroke="#8b93ad" stroke-width="0.2">wc</text>
<text x="668" y="530" font-size="10.5" text-anchor="start" fill="#8b93ad" stroke="#8b93ad" stroke-width="0.2">ker.pl.-P3</text>
<text x="668" y="541" font-size="10.5" text-anchor="start" fill="#8b93ad" stroke="#8b93ad" stroke-width="0.2">P=2,84m2</text>
<line x1="666.5" y1="512" x2="666.5" y2="543" stroke="#8b93ad" stroke-width="1"/>
<rect x="728.5" y="546" width="29" height="19.5" fill="none" stroke="#3a3a3a" stroke-width="1" rx="9"/>
<ellipse cx="744" cy="555.7" rx="11" ry="7" fill="none" stroke="#3a3a3a" stroke-width="1"/>
<path d="M746 552.5A3.5 3.5 0 1 0 746 559" fill="none" stroke="#555" stroke-width="1"/>
<rect x="757" y="549" width="3" height="12" fill="#222" stroke="#222" stroke-width="1"/>
<rect x="760" y="541" width="4.5" height="27" fill="none" stroke="#3a3a3a" stroke-width="1"/>
<line x1="762" y1="541" x2="762" y2="568" stroke="#3a3a3a" stroke-width="0.8"/>
<line x1="762.5" y1="507" x2="762.5" y2="578.5" stroke="#3a3a3a" stroke-width="1"/>
<path d="M730.5 579H762.5M730.5 581.5H762.5" fill="none" stroke="#555" stroke-width="1"/>
<path d="M667.5 551A40 40 0 0 1 707.5 591" fill="none" stroke="#3a3a3a" stroke-width="1"/>
<line x1="667.5" y1="551" x2="667.5" y2="593" stroke="#3a3a3a" stroke-width="1"/>
<text x="676" y="571" font-size="12" text-anchor="start" fill="#1e1e1e" stroke="#1e1e1e" stroke-width="0.35" transform="rotate(90 676 571)" textLength="16.0" lengthAdjust="spacingAndGlyphs">220</text>
<text x="691" y="573" font-size="12" text-anchor="start" fill="#1e1e1e" stroke="#1e1e1e" stroke-width="0.35" transform="rotate(90 691 573)" textLength="10.7" lengthAdjust="spacingAndGlyphs">80</text>
<rect x="777.5" y="470" width="32.5" height="108.5" fill="none" stroke="#3a3a3a" stroke-width="1"/>
<line x1="777.5" y1="523.5" x2="810" y2="523.5" stroke="#3a3a3a" stroke-width="1"/>
<text x="812" y="513" font-size="12" text-anchor="start" fill="#1e1e1e" stroke="#1e1e1e" stroke-width="0.35" transform="rotate(90 812 513)">210</text>
<text x="823.5" y="521" font-size="12" text-anchor="start" fill="#1e1e1e" stroke="#1e1e1e" stroke-width="0.35" transform="rotate(90 823.5 521)">±0,00</text>
<text x="812" y="529" font-size="12" text-anchor="start" fill="#1e1e1e" stroke="#1e1e1e" stroke-width="0.35" transform="rotate(90 812 529)">-0,20</text>
<line x1="810.0" y1="557" x2="831.0" y2="557" stroke="#333" stroke-width="0.9"/>
<path d="M820.5 557H815.0A5.5 5.5 0 0 1 820.5 551.5ZM820.5 557H826.0A5.5 5.5 0 0 1 820.5 562.5Z" fill="#111"/>
<circle cx="820.5" cy="557" r="5.5" fill="none" stroke="#111" stroke-width="1.1"/>
<rect x="833" y="539" width="3" height="19" fill="#fff" stroke="#333" stroke-width="1"/>
<path d="M777.5 578.5H863M777.5 581H863" fill="none" stroke="#555" stroke-width="1"/>
<path d="M730.5 597H777.5" fill="none" stroke="#333" stroke-width="1"/>
<text x="742.5" y="578" font-size="10.5" text-anchor="middle" fill="#1e1e1e" stroke="#1e1e1e" stroke-width="0.35">P140</text>
<rect x="863" y="420.5" width="52.7" height="109.5" fill="none" stroke="#3a3a3a" stroke-width="1"/>
<rect x="866" y="422.5" width="47.5" height="21" fill="none" stroke="#3a3a3a" stroke-width="1"/>
<rect x="866" y="449.6" width="47.5" height="78.4" fill="none" stroke="#3a3a3a" stroke-width="1"/>
<line x1="866" y1="471" x2="887" y2="449.6" stroke="#3a3a3a" stroke-width="1"/>
<rect x="882" y="423.6" width="15.799999999999955" height="37.89999999999998" fill="#fff" stroke="#222" stroke-width="1.2"/>
<text x="889.9" y="442.55" font-size="13.5" font-weight="bold" text-anchor="middle" dominant-baseline="central" fill="#111" stroke="#111" stroke-width="0.55" transform="rotate(90 889.9 442.55)" textLength="27" lengthAdjust="spacingAndGlyphs">UZ1</text>
<line x1="890" y1="417.5" x2="890" y2="423.6" stroke="#222" stroke-width="1"/>
<text x="890.5" y="471" font-size="10.5" text-anchor="start" fill="#8b93ad" stroke="#8b93ad" stroke-width="0.2" transform="rotate(90 890.5 471)">soba</text>
<text x="878.0" y="473" font-size="10.5" text-anchor="start" fill="#8b93ad" stroke="#8b93ad" stroke-width="0.2" transform="rotate(90 878.0 473)">parket-P2</text>
<text x="865.5" y="475" font-size="10.5" text-anchor="start" fill="#8b93ad" stroke="#8b93ad" stroke-width="0.2" transform="rotate(90 865.5 475)">P=8,02m2</text>
<rect x="955.3" y="465" width="39.700000000000045" height="15" fill="#fff" stroke="#222" stroke-width="1.2"/>
<text x="975.15" y="472.5" font-size="13" font-weight="bold" text-anchor="middle" dominant-baseline="central" fill="#111" stroke="#111" stroke-width="0.55" textLength="37" lengthAdjust="spacingAndGlyphs">VZ2/4</text>
<line x1="930.4" y1="472" x2="955.3" y2="472" stroke="#222" stroke-width="1"/>
<path d="M895.5 545.5Q901.3 548.5 906.9 549.0M895.5 545.5Q901.1 551.2 907.3 553.8M895.5 545.5Q899.7 553.9 905.7 559.1M895.5 545.5Q896.6 552.7 899.7 558.0M895.5 545.5Q894.1 554.0 895.7 561.2M895.5 545.5Q892.5 551.3 892.0 556.9M895.5 545.5Q889.8 551.1 887.2 557.3M895.5 545.5Q887.1 549.7 881.9 555.7M895.5 545.5Q888.3 546.6 883.0 549.7M895.5 545.5Q887.0 544.1 879.8 545.7M895.5 545.5Q889.7 542.5 884.1 542.0M895.5 545.5Q889.9 539.8 883.7 537.2M895.5 545.5Q891.3 537.1 885.3 531.9M895.5 545.5Q894.4 538.3 891.3 533.0M895.5 545.5Q896.9 537.0 895.3 529.8M895.5 545.5Q898.5 539.7 899.0 534.1M895.5 545.5Q901.2 539.9 903.8 533.7M895.5 545.5Q903.9 541.3 909.1 535.3M895.5 545.5Q902.7 544.4 908.0 541.3M895.5 545.5Q904.0 546.9 911.2 545.3" fill="none" stroke="#111" stroke-width="1.2" stroke-linecap="round"/>
<circle cx="895.5" cy="545.5" r="4.25" fill="#111" stroke="#111" stroke-width="1"/>
<path d="M872.6 562.0Q876.0 563.8 879.3 564.1M872.6 562.0Q875.6 565.6 879.1 567.4M872.6 562.0Q874.3 567.2 877.3 570.8M872.6 562.0Q872.2 566.2 873.3 569.7M872.6 562.0Q870.3 566.5 869.9 570.8M872.6 562.0Q869.7 564.5 868.1 567.4M872.6 562.0Q868.1 563.4 865.1 566.0M872.6 562.0Q867.1 561.5 862.6 562.9M872.6 562.0Q868.8 560.0 865.2 559.7M872.6 562.0Q869.3 558.1 865.5 556.1M872.6 562.0Q871.4 558.3 869.3 555.8M872.6 562.0Q873.0 557.3 871.8 553.5M872.6 562.0Q875.1 557.1 875.6 552.4M872.6 562.0Q875.9 559.3 877.5 556.0M872.6 562.0Q877.5 560.5 880.8 557.7M872.6 562.0Q876.4 562.3 879.6 561.4" fill="none" stroke="#111" stroke-width="1.2" stroke-linecap="round"/>
<circle cx="872.6" cy="562" r="2.5" fill="#111" stroke="#111" stroke-width="1"/>
<rect x="590.7" y="537.5" width="15.3" height="38.5" fill="#fff" stroke="#3a3a3a" stroke-width="1"/>
<rect x="594" y="541" width="10" height="7" fill="#222" stroke="#111" stroke-width="1"/>
<path d="M596.0 562.0Q602.5 565.4 608.7 565.9M596.0 562.0Q602.2 568.3 609.2 571.3M596.0 562.0Q600.7 571.4 607.4 577.2M596.0 562.0Q597.2 570.0 600.7 575.9M596.0 562.0Q594.4 571.5 596.2 579.6M596.0 562.0Q592.6 568.5 592.1 574.7M596.0 562.0Q589.7 568.2 586.7 575.2M596.0 562.0Q586.6 566.7 580.8 573.4M596.0 562.0Q588.0 563.2 582.1 566.7M596.0 562.0Q586.5 560.4 578.4 562.2M596.0 562.0Q589.5 558.6 583.3 558.1M596.0 562.0Q589.8 555.7 582.8 552.7M596.0 562.0Q591.3 552.6 584.6 546.8M596.0 562.0Q594.8 554.0 591.3 548.1M596.0 562.0Q597.6 552.5 595.8 544.4M596.0 562.0Q599.4 555.5 599.9 549.3M596.0 562.0Q602.3 555.8 605.3 548.8M596.0 562.0Q605.4 557.3 611.2 550.6M596.0 562.0Q604.0 560.8 609.9 557.3M596.0 562.0Q605.5 563.6 613.6 561.8" fill="none" stroke="#111" stroke-width="1.3" stroke-linecap="round"/>
<circle cx="596" cy="562" r="4.75" fill="#111" stroke="#111" stroke-width="1"/>
<path d="M865 528L880 540" fill="none" stroke="#3a3a3a" stroke-width="1"/>
<text x="872" y="538" font-size="11" text-anchor="middle" fill="#1e1e1e" stroke="#1e1e1e" stroke-width="0.35" transform="rotate(50 872 538)">R</text>
<line x1="865" y1="530" x2="865" y2="597" stroke="#3a3a3a" stroke-width="1"/>
<line x1="525" y1="549.7" x2="918" y2="549.7" stroke="#4d4d4d" stroke-width="1"/>
<path d="M538.3 552.3000000000001L541.7 547.1M538.8 547.9000000000001L540.2 547.9000000000001" stroke="#2a2a2a" stroke-width="1.15" fill="none"/>
<path d="M556.8 552.3000000000001L560.2 547.1M557.3 547.9000000000001L558.7 547.9000000000001" stroke="#2a2a2a" stroke-width="1.15" fill="none"/>
<path d="M609.6999999999999 552.3000000000001L613.1 547.1M610.1999999999999 547.9000000000001L611.6 547.9000000000001" stroke="#2a2a2a" stroke-width="1.15" fill="none"/>
<path d="M657.3 552.3000000000001L660.7 547.1M657.8 547.9000000000001L659.2 547.9000000000001" stroke="#2a2a2a" stroke-width="1.15" fill="none"/>
<path d="M662.5999999999999 552.3000000000001L666.0 547.1M663.0999999999999 547.9000000000001L664.5 547.9000000000001" stroke="#2a2a2a" stroke-width="1.15" fill="none"/>
<path d="M665.3 552.3000000000001L668.7 547.1M665.8 547.9000000000001L667.2 547.9000000000001" stroke="#2a2a2a" stroke-width="1.15" fill="none"/>
<path d="M707.5999999999999 552.3000000000001L711.0 547.1M708.0999999999999 547.9000000000001L709.5 547.9000000000001" stroke="#2a2a2a" stroke-width="1.15" fill="none"/>
<path d="M710.3 552.3000000000001L713.7 547.1M710.8 547.9000000000001L712.2 547.9000000000001" stroke="#2a2a2a" stroke-width="1.15" fill="none"/>
<path d="M768.3 552.3000000000001L771.7 547.1M768.8 547.9000000000001L770.2 547.9000000000001" stroke="#2a2a2a" stroke-width="1.15" fill="none"/>
<path d="M773.5999999999999 552.3000000000001L777.0 547.1M774.0999999999999 547.9000000000001L775.5 547.9000000000001" stroke="#2a2a2a" stroke-width="1.15" fill="none"/>
<path d="M916.3 552.3000000000001L919.7 547.1M916.8 547.9000000000001L918.2 547.9000000000001" stroke="#2a2a2a" stroke-width="1.15" fill="none"/>
<text x="549" y="547.3000000000001" font-size="12" text-anchor="middle" fill="#1e1e1e" stroke="#1e1e1e" stroke-width="0.35">35</text>
<text x="585" y="547.3000000000001" font-size="12" text-anchor="middle" fill="#1e1e1e" stroke="#1e1e1e" stroke-width="0.35">100</text>
<text x="635" y="547.3000000000001" font-size="12" text-anchor="middle" fill="#1e1e1e" stroke="#1e1e1e" stroke-width="0.35">90</text>
<text x="661.5" y="547.3000000000001" font-size="12" text-anchor="middle" fill="#1e1e1e" stroke="#1e1e1e" stroke-width="0.35">10</text>
<text x="670" y="547.3000000000001" font-size="12" text-anchor="middle" fill="#1e1e1e" stroke="#1e1e1e" stroke-width="0.35">5</text>
<text x="688" y="547.3000000000001" font-size="12" text-anchor="middle" fill="#1e1e1e" stroke="#1e1e1e" stroke-width="0.35">80</text>
<text x="710.6" y="547.3000000000001" font-size="12" text-anchor="middle" fill="#1e1e1e" stroke="#1e1e1e" stroke-width="0.35">5</text>
<text x="741" y="547.3000000000001" font-size="12" text-anchor="middle" fill="#1e1e1e" stroke="#1e1e1e" stroke-width="0.35">110</text>
<text x="772.6" y="547.3000000000001" font-size="12" text-anchor="middle" fill="#1e1e1e" stroke="#1e1e1e" stroke-width="0.35">10</text>
<text x="846.5" y="547.3000000000001" font-size="12" text-anchor="middle" fill="#1e1e1e" stroke="#1e1e1e" stroke-width="0.35">270</text>
<line x1="371" y1="675.3" x2="749" y2="675.3" stroke="#4d4d4d" stroke-width="1"/>
<path d="M369.3 677.9L372.7 672.6999999999999M369.8 673.5L371.2 673.5" stroke="#2a2a2a" stroke-width="1.15" fill="none"/>
<path d="M538.3 677.9L541.7 672.6999999999999M538.8 673.5L540.2 673.5" stroke="#2a2a2a" stroke-width="1.15" fill="none"/>
<path d="M556.8 677.9L560.2 672.6999999999999M557.3 673.5L558.7 673.5" stroke="#2a2a2a" stroke-width="1.15" fill="none"/>
<path d="M578.0 677.9L581.4000000000001 672.6999999999999M578.5 673.5L579.9000000000001 673.5" stroke="#2a2a2a" stroke-width="1.15" fill="none"/>
<path d="M583.3 677.9L586.7 672.6999999999999M583.8 673.5L585.2 673.5" stroke="#2a2a2a" stroke-width="1.15" fill="none"/>
<path d="M614.8 677.9L618.2 672.6999999999999M615.3 673.5L616.7 673.5" stroke="#2a2a2a" stroke-width="1.15" fill="none"/>
<path d="M657.05 677.9L660.45 672.6999999999999M657.55 673.5L658.95 673.5" stroke="#2a2a2a" stroke-width="1.15" fill="none"/>
<path d="M710.0 677.9L713.4000000000001 672.6999999999999M710.5 673.5L711.9000000000001 673.5" stroke="#2a2a2a" stroke-width="1.15" fill="none"/>
<text x="455.5" y="672.9" font-size="12" text-anchor="middle" fill="#1e1e1e" stroke="#1e1e1e" stroke-width="0.35">320</text>
<text x="549" y="672.9" font-size="12" text-anchor="middle" fill="#1e1e1e" stroke="#1e1e1e" stroke-width="0.35">35</text>
<text x="568" y="672.9" font-size="12" text-anchor="middle" fill="#1e1e1e" stroke="#1e1e1e" stroke-width="0.35">40</text>
<text x="581.5" y="672.9" font-size="12" text-anchor="middle" fill="#1e1e1e" stroke="#1e1e1e" stroke-width="0.35">10</text>
<text x="600.6" y="672.9" font-size="12" text-anchor="middle" fill="#1e1e1e" stroke="#1e1e1e" stroke-width="0.35">60</text>
<text x="637.6" y="672.9" font-size="12" text-anchor="middle" fill="#1e1e1e" stroke="#1e1e1e" stroke-width="0.35">80</text>
<text x="685" y="672.9" font-size="12" text-anchor="middle" fill="#1e1e1e" stroke="#1e1e1e" stroke-width="0.35">100</text>
<line x1="641" y1="289" x2="641" y2="646" stroke="#333" stroke-width="1"/>
<path d="M639.3 420.1L642.7 414.9M639.8 415.7L641.2 415.7" stroke="#2a2a2a" stroke-width="1.15" fill="none"/>
<path d="M639.3 478.20000000000005L642.7 473.0M639.8 473.8L641.2 473.8" stroke="#2a2a2a" stroke-width="1.15" fill="none"/>
<path d="M639.3 581.2L642.7 576.0M639.8 576.8000000000001L641.2 576.8000000000001" stroke="#2a2a2a" stroke-width="1.15" fill="none"/>
<path d="M639.3 594.6L642.7 589.4M639.8 590.2L641.2 590.2" stroke="#2a2a2a" stroke-width="1.15" fill="none"/>
<path d="M639.3 642.2L642.7 637.0M639.8 637.8000000000001L641.2 637.8000000000001" stroke="#2a2a2a" stroke-width="1.15" fill="none"/>
<text x="643.5" y="519" font-size="12" text-anchor="start" fill="#1e1e1e" stroke="#1e1e1e" stroke-width="0.35" transform="rotate(90 643.5 519)">195</text>
<text x="643.5" y="579" font-size="12" text-anchor="start" fill="#1e1e1e" stroke="#1e1e1e" stroke-width="0.35" transform="rotate(90 643.5 579)">25</text>
<text x="643.5" y="597" font-size="12" text-anchor="start" fill="#1e1e1e" stroke="#1e1e1e" stroke-width="0.35" transform="rotate(90 643.5 597)">90</text>
<text x="643.5" y="612" font-size="12" text-anchor="start" fill="#1e1e1e" stroke="#1e1e1e" stroke-width="0.35" transform="rotate(90 643.5 612)">100</text>
<line x1="371" y1="548.5" x2="525" y2="548.5" stroke="#3a3a3a" stroke-width="1"/>
<path d="M371 576H577.5V548.5" fill="none" stroke="#3a3a3a" stroke-width="1"/>
<line x1="371" y1="578.2" x2="540" y2="578.2" stroke="#111" stroke-width="2"/>
<line x1="371" y1="591.3" x2="540" y2="591.3" stroke="#111" stroke-width="2"/>
<line x1="397.5" y1="578.5" x2="397.5" y2="591" stroke="#3a3a3a" stroke-width="1"/>
<rect x="390" y="538.5" width="14.5" height="37.5" fill="#fff" stroke="#222" stroke-width="1.2"/>
<text x="397.25" y="557.25" font-size="14" font-weight="bold" text-anchor="middle" dominant-baseline="central" fill="#111" stroke="#111" stroke-width="0.55" transform="rotate(90 397.25 557.25)" textLength="26" lengthAdjust="spacingAndGlyphs">UZ2</text>
<rect x="421" y="550" width="54" height="26" fill="none" stroke="#222" stroke-width="1.3" stroke-dasharray="5 3"/>
<text x="448" y="567" font-size="11.5" text-anchor="middle" fill="#1e1e1e" stroke="#1e1e1e" stroke-width="0.35">el.kamin</text>
<rect x="424" y="543.5" width="47" height="3.5" fill="none" stroke="#3a3a3a" stroke-width="1"/>
<rect x="431" y="594" width="48" height="3.5" fill="none" stroke="#3a3a3a" stroke-width="1"/>
<text x="455.5" y="546" font-size="12" text-anchor="middle" fill="#1e1e1e" stroke="#1e1e1e" stroke-width="0.35">320</text>
<path d="M558 588.5H712M558 591.3H712" fill="none" stroke="#555" stroke-width="1"/>
<path d="M454 597L383.8 692.5A118.5 118.5 0 0 0 524.2 692.5Z" fill="none" stroke="#444" stroke-width="1" stroke-dasharray="5 3"/>
<rect x="412.5" y="644" width="85" height="112" fill="none" stroke="#3a3a3a" stroke-width="1"/>
<rect x="415" y="646.5" width="80" height="107.5" fill="none" stroke="#3a3a3a" stroke-width="1"/>
<rect x="416.5" y="732.5" width="37" height="21" fill="none" stroke="#3a3a3a" stroke-width="1"/>
<rect x="457.5" y="732.5" width="36.5" height="21" fill="none" stroke="#3a3a3a" stroke-width="1"/>
<path d="M415 727H473.75L495 705.6H473.75V727" fill="none" stroke="#3a3a3a" stroke-width="1"/>
<text x="442.5" y="650" font-size="10.5" text-anchor="start" fill="#8b93ad" stroke="#8b93ad" stroke-width="0.2" transform="rotate(90 442.5 650)">soba</text>
<text x="431.0" y="650" font-size="10.5" text-anchor="start" fill="#8b93ad" stroke="#8b93ad" stroke-width="0.2" transform="rotate(90 431.0 650)">parket-P2</text>
<text x="419.5" y="650" font-size="10.5" text-anchor="start" fill="#8b93ad" stroke="#8b93ad" stroke-width="0.2" transform="rotate(90 419.5 650)">P=12,23m2</text>
<line x1="380.5" y1="639" x2="401.5" y2="639" stroke="#333" stroke-width="0.9"/>
<path d="M391 639H385.5A5.5 5.5 0 0 1 391 633.5ZM391 639H396.5A5.5 5.5 0 0 1 391 644.5Z" fill="#111"/>
<circle cx="391" cy="639" r="5.5" fill="none" stroke="#111" stroke-width="1.1"/>
<text x="394" y="647" font-size="12" text-anchor="start" fill="#1e1e1e" stroke="#1e1e1e" stroke-width="0.35" transform="rotate(90 394 647)">±0,00</text>
<text x="381" y="647" font-size="12" text-anchor="start" fill="#1e1e1e" stroke="#1e1e1e" stroke-width="0.35" transform="rotate(90 381 647)">-0,20</text>
<path d="M387.5 742L423 706V759" fill="none" stroke="#3a3a3a" stroke-width="1"/>
<text x="409" y="728" font-size="12" text-anchor="middle" fill="#1e1e1e" stroke="#1e1e1e" stroke-width="0.35" transform="rotate(125 409 728)">R100</text>
<text x="425.6" y="722" font-size="12" text-anchor="start" fill="#1e1e1e" stroke="#1e1e1e" stroke-width="0.35" transform="rotate(90 425.6 722)">R120</text>
<circle cx="303.5" cy="640" r="10.5" fill="none" stroke="#333" stroke-width="1"/>
<line x1="293.0" y1="640" x2="314.0" y2="640" stroke="#333" stroke-width="0.9"/>
<path d="M303.5 640H298.0A5.5 5.5 0 0 1 303.5 634.5ZM303.5 640H309.0A5.5 5.5 0 0 1 303.5 645.5Z" fill="#111"/>
<circle cx="303.5" cy="640" r="5.5" fill="none" stroke="#111" stroke-width="1.1"/>
<line x1="314" y1="640" x2="368.5" y2="640" stroke="#333" stroke-width="1"/>
<line x1="303.5" y1="640" x2="303.5" y2="676" stroke="#333" stroke-width="1"/>
<text x="337.5" y="635" font-size="12" text-anchor="middle" fill="#1e1e1e" stroke="#1e1e1e" stroke-width="0.35" textLength="16.0" lengthAdjust="spacingAndGlyphs">180</text>
<text x="335.5" y="651.5" font-size="12" text-anchor="middle" fill="#1e1e1e" stroke="#1e1e1e" stroke-width="0.35" textLength="32.3" lengthAdjust="spacingAndGlyphs">240+20</text>
<text x="306" y="653" font-size="12" text-anchor="start" fill="#1e1e1e" stroke="#1e1e1e" stroke-width="0.35" transform="rotate(90 306 653)">-0,05</text>
<rect x="545" y="644" width="32.5" height="112" fill="none" stroke="#3a3a3a" stroke-width="1"/>
<line x1="548.75" y1="644" x2="548.75" y2="756" stroke="#3a3a3a" stroke-width="1"/>
<rect x="534" y="733" width="37" height="15" fill="#fff" stroke="#222" stroke-width="1.2"/>
<text x="552.5" y="740.5" font-size="14" font-weight="bold" text-anchor="middle" dominant-baseline="central" fill="#111" stroke="#111" stroke-width="0.55" transform="rotate(180 552.5 740.5)" textLength="28" lengthAdjust="spacingAndGlyphs">PZ1</text>
<line x1="571" y1="740.5" x2="586" y2="740.5" stroke="#222" stroke-width="1"/>
<text x="527" y="690" font-size="12" text-anchor="start" fill="#1e1e1e" stroke="#1e1e1e" stroke-width="0.35" transform="rotate(90 527 690)">220</text>
<text x="527" y="612" font-size="12" text-anchor="start" fill="#1e1e1e" stroke="#1e1e1e" stroke-width="0.35" transform="rotate(90 527 612)">90</text>
<path d="M523.8 594.1L527.2 588.9M524.3 589.7L525.7 589.7" stroke="#2a2a2a" stroke-width="1.15" fill="none"/>
<path d="M523.8 646.1L527.2 640.9M524.3 641.7L525.7 641.7" stroke="#2a2a2a" stroke-width="1.15" fill="none"/>
<path d="M578.75 592V759M585.3 592V759" fill="none" stroke="#3a3a3a" stroke-width="1"/>
<rect x="586.5" y="650" width="28.5" height="106" fill="none" stroke="#3a3a3a" stroke-width="1"/>
<rect x="589" y="664" width="23" height="26" fill="none" stroke="#3a3a3a" stroke-width="1"/>
<rect x="589" y="692.5" width="23" height="27.5" fill="none" stroke="#3a3a3a" stroke-width="1"/>
<rect x="588" y="727" width="25" height="27" fill="none" stroke="#555" stroke-width="1" stroke-dasharray="4 2"/>
<circle cx="600.5" cy="740.5" r="8" fill="none" stroke="#3a3a3a" stroke-width="1"/>
<line x1="585.3" y1="644.5" x2="712" y2="644.5" stroke="#3a3a3a" stroke-width="1"/>
<line x1="585.3" y1="642" x2="712" y2="642" stroke="#666" stroke-width="1"/>
<rect x="585.3" y="592" width="54" height="52" fill="none" stroke="#666" stroke-width="1"/>
<text x="589" y="612.0" font-size="10.5" text-anchor="start" fill="#8b93ad" stroke="#8b93ad" stroke-width="0.2">predprostor</text>
<text x="589" y="623.3" font-size="10.5" text-anchor="start" fill="#8b93ad" stroke="#8b93ad" stroke-width="0.2">ker.pl.-P1</text>
<text x="589" y="634.6" font-size="10.5" text-anchor="start" fill="#8b93ad" stroke="#8b93ad" stroke-width="0.2">P=2,63m2</text>
<line x1="587" y1="603" x2="587" y2="636" stroke="#8b93ad" stroke-width="1"/>
<path d="M538 597A40 40 0 0 0 578 637" fill="none" stroke="#3a3a3a" stroke-width="1"/>
<line x1="578" y1="597" x2="578" y2="640" stroke="#3a3a3a" stroke-width="1"/>
<text x="625.6" y="594" font-size="12" text-anchor="start" fill="#1e1e1e" stroke="#1e1e1e" stroke-width="0.35" transform="rotate(90 625.6 594)" textLength="16.0" lengthAdjust="spacingAndGlyphs">220</text>
<text x="575" y="618" font-size="12" text-anchor="middle" fill="#1e1e1e" stroke="#1e1e1e" stroke-width="0.35" textLength="10.7" lengthAdjust="spacingAndGlyphs">90</text>
<text x="575" y="633" font-size="12" text-anchor="middle" fill="#1e1e1e" stroke="#1e1e1e" stroke-width="0.35" textLength="16.0" lengthAdjust="spacingAndGlyphs">220</text>
<line x1="550" y1="622" x2="578" y2="622" stroke="#3a3a3a" stroke-width="1"/>
<circle cx="597" cy="617.5" r="9" fill="none" stroke="#3a3a3a" stroke-width="1"/>
<circle cx="634" cy="624" r="10" fill="none" stroke="#3a3a3a" stroke-width="1"/>
<circle cx="688" cy="607.5" r="10.6" fill="none" stroke="#3a3a3a" stroke-width="1"/>
<circle cx="636" cy="567" r="10.8" fill="none" stroke="#3a3a3a" stroke-width="1"/>
<circle cx="747" cy="645" r="10.6" fill="none" stroke="#3a3a3a" stroke-width="1"/>
<circle cx="778" cy="621" r="10.6" fill="none" stroke="#3a3a3a" stroke-width="1"/>
<line x1="680.5" y1="621" x2="701.5" y2="621" stroke="#333" stroke-width="0.9"/>
<path d="M691 621H685.5A5.5 5.5 0 0 1 691 615.5ZM691 621H696.5A5.5 5.5 0 0 1 691 626.5Z" fill="#111"/>
<circle cx="691" cy="621" r="5.5" fill="none" stroke="#111" stroke-width="1.1"/>
<text x="668.5" y="619" font-size="12" text-anchor="middle" fill="#1e1e1e" stroke="#1e1e1e" stroke-width="0.35">±0,00</text>
<text x="668.5" y="632" font-size="12" text-anchor="middle" fill="#1e1e1e" stroke="#1e1e1e" stroke-width="0.35">-0,20</text>
<path d="M708 621H691M691 621H635V642.5" fill="none" stroke="#111" stroke-width="2"/>
<line x1="635.5" y1="645" x2="635.5" y2="824" stroke="#222" stroke-width="1.6" stroke-dasharray="14 4 2 4"/>
<text x="645.5" y="579" font-size="12" text-anchor="start" fill="#1e1e1e" stroke="#1e1e1e" stroke-width="0.35" transform="rotate(90 645.5 579)"></text>
<path d="M619 645A40 40 0 0 0 659 685" fill="none" stroke="#3a3a3a" stroke-width="1"/>
<path d="M657.5 645V686.6M659.5 645V686.6" fill="none" stroke="#3a3a3a" stroke-width="1"/>
<line x1="640" y1="645" x2="640" y2="759" stroke="#333" stroke-width="1"/>
<text x="642.5" y="694" font-size="12" text-anchor="start" fill="#1e1e1e" stroke="#1e1e1e" stroke-width="0.35" transform="rotate(90 642.5 694)">205</text>
<text x="642.5" y="643" font-size="12" text-anchor="start" fill="#1e1e1e" stroke="#1e1e1e" stroke-width="0.35" transform="rotate(90 642.5 643)">10</text>
<text x="642.5" y="656" font-size="12" text-anchor="start" fill="#1e1e1e" stroke="#1e1e1e" stroke-width="0.35" transform="rotate(90 642.5 656)">80</text>
<text x="626" y="655" font-size="12" text-anchor="start" fill="#1e1e1e" stroke="#1e1e1e" stroke-width="0.35" transform="rotate(90 626 655)">220</text>
<ellipse cx="684" cy="674" rx="13.5" ry="9.5" fill="none" stroke="#3a3a3a" stroke-width="1"/>
<rect x="697.5" y="667.5" width="4" height="15.5" fill="#222" stroke="#222" stroke-width="1"/>
<rect x="701.7" y="663" width="6.5" height="24" fill="none" stroke="#3a3a3a" stroke-width="1"/>
<line x1="662" y1="651" x2="701.7" y2="651" stroke="#777" stroke-width="2.2"/>
<path d="M659.7 758.5V697.3H704M704 650V745" fill="none" stroke="#3a3a3a" stroke-width="1"/>
<line x1="694.0" y1="707" x2="694.0" y2="734" stroke="#333" stroke-width="0.5"/>
<line x1="694.8" y1="707" x2="694.8" y2="734" stroke="#333" stroke-width="0.5"/>
<line x1="695.6" y1="707" x2="695.6" y2="734" stroke="#333" stroke-width="0.5"/>
<line x1="696.4" y1="707" x2="696.4" y2="734" stroke="#333" stroke-width="0.5"/>
<line x1="697.2" y1="707" x2="697.2" y2="734" stroke="#333" stroke-width="0.5"/>
<line x1="698.0" y1="707" x2="698.0" y2="734" stroke="#333" stroke-width="0.5"/>
<line x1="698.8" y1="707" x2="698.8" y2="734" stroke="#333" stroke-width="0.5"/>
<rect x="694" y="707" width="5.5" height="27" fill="none" stroke="#333" stroke-width="0.8"/>
<line x1="659.7" y1="706.5" x2="695" y2="741.7" stroke="#3a3a3a" stroke-width="1"/>
<text x="680" y="713" font-size="12" text-anchor="middle" fill="#1e1e1e" stroke="#1e1e1e" stroke-width="0.35" transform="rotate(45 680 713)">R100</text>
<text x="661.5" y="715" font-size="12" text-anchor="start" fill="#1e1e1e" stroke="#1e1e1e" stroke-width="0.35" transform="rotate(90 661.5 715)">R120</text>
<text x="687.0" y="700" font-size="10" text-anchor="start" fill="#8b93ad" stroke="#8b93ad" stroke-width="0.2" transform="rotate(90 687.0 700)">kupaonica</text>
<text x="676.5" y="700" font-size="10" text-anchor="start" fill="#8b93ad" stroke="#8b93ad" stroke-width="0.2" transform="rotate(90 676.5 700)">ker.pl.-P3</text>
<text x="666.0" y="700" font-size="10" text-anchor="start" fill="#8b93ad" stroke="#8b93ad" stroke-width="0.2" transform="rotate(90 666.0 700)">P=2,4..m2</text>
<rect x="749" y="668" width="38.5" height="15" fill="#fff" stroke="#222" stroke-width="1.2"/>
<text x="768.25" y="675.5" font-size="14" font-weight="bold" text-anchor="middle" dominant-baseline="central" fill="#111" stroke="#111" stroke-width="0.55" textLength="28" lengthAdjust="spacingAndGlyphs">VZ2</text>
<line x1="723" y1="675.5" x2="749" y2="675.5" stroke="#222" stroke-width="1"/>
<path d="M497.75 769.5V777.5M545 769.5V777.5" fill="none" stroke="#333" stroke-width="1"/>
<path d="M497.75 759.5H545M497.75 762.5H545" fill="none" stroke="#555" stroke-width="1"/>
<path d="M619.6 758.5H651M619.6 761.5H651" fill="none" stroke="#555" stroke-width="1"/>
<path d="M619.6 769.5V777.5M651 769.5V777.5" fill="none" stroke="#333" stroke-width="1"/>
<text x="631.5" y="757.8" font-size="10.5" text-anchor="middle" fill="#1e1e1e" stroke="#1e1e1e" stroke-width="0.35">P140</text>
<rect x="452.5" y="796" width="16.5" height="38" fill="#fff" stroke="#222" stroke-width="1.2"/>
<text x="460.75" y="815.0" font-size="15" font-weight="bold" text-anchor="middle" dominant-baseline="central" fill="#111" stroke="#111" stroke-width="0.55" transform="rotate(90 460.75 815.0)">VZ2</text>
<line x1="461" y1="769.5" x2="461" y2="796" stroke="#222" stroke-width="1"/>
<rect x="575" y="796" width="15" height="38" fill="#fff" stroke="#222" stroke-width="1.2"/>
<text x="582.5" y="815.0" font-size="15" font-weight="bold" text-anchor="middle" dominant-baseline="central" fill="#111" stroke="#111" stroke-width="0.55" transform="rotate(90 582.5 815.0)">VZ2</text>
<line x1="582.5" y1="769.5" x2="582.5" y2="796" stroke="#222" stroke-width="1"/>
<rect x="647.5" y="796" width="15.0" height="38" fill="#fff" stroke="#222" stroke-width="1.2"/>
<text x="655.0" y="815.0" font-size="15" font-weight="bold" text-anchor="middle" dominant-baseline="central" fill="#111" stroke="#111" stroke-width="0.55" transform="rotate(90 655.0 815.0)">VZ2</text>
<line x1="655" y1="769.5" x2="655" y2="796" stroke="#222" stroke-width="1"/>
<circle cx="522" cy="825" r="10.5" fill="none" stroke="#333" stroke-width="1"/>
<line x1="522" y1="759" x2="522" y2="814.5" stroke="#333" stroke-width="1"/>
<text x="509" y="776" font-size="12" text-anchor="start" fill="#1e1e1e" stroke="#1e1e1e" stroke-width="0.35" transform="rotate(90 509 776)" textLength="32.3" lengthAdjust="spacingAndGlyphs">240+20</text>
<text x="524.5" y="790" font-size="12" text-anchor="start" fill="#1e1e1e" stroke="#1e1e1e" stroke-width="0.35" transform="rotate(90 524.5 790)">90</text>
<circle cx="635.5" cy="824" r="10.5" fill="none" stroke="#333" stroke-width="1"/>
<text x="621" y="780" font-size="12" text-anchor="start" fill="#1e1e1e" stroke="#1e1e1e" stroke-width="0.35" transform="rotate(90 621 780)" textLength="27.0" lengthAdjust="spacingAndGlyphs">60+20</text>
<text x="637.6" y="790" font-size="12" text-anchor="start" fill="#1e1e1e" stroke="#1e1e1e" stroke-width="0.35" transform="rotate(90 637.6 790)">60</text>
<path d="M635.5 818V834H655" fill="none" stroke="#111" stroke-width="2.6"/>
<text x="641" y="829" font-size="12" text-anchor="middle" fill="#1e1e1e" stroke="#1e1e1e" stroke-width="0.35" transform="rotate(90 641 829)">B</text>
<rect x="296" y="688" width="38" height="16" fill="#fff" stroke="#222" stroke-width="1.2"/>
<text x="315.0" y="696.0" font-size="14" font-weight="bold" text-anchor="middle" dominant-baseline="central" fill="#111" stroke="#111" stroke-width="0.55" textLength="28" lengthAdjust="spacingAndGlyphs">VZ2</text>
<line x1="334" y1="696" x2="360" y2="696" stroke="#222" stroke-width="1"/>
<rect x="296" y="562" width="38" height="16" fill="#fff" stroke="#222" stroke-width="1.2"/>
<text x="315.0" y="570.0" font-size="14" font-weight="bold" text-anchor="middle" dominant-baseline="central" fill="#111" stroke="#111" stroke-width="0.55" textLength="28" lengthAdjust="spacingAndGlyphs">VZ1</text>
<line x1="334" y1="570" x2="360" y2="570" stroke="#222" stroke-width="1"/>
<rect x="762.5" y="616" width="15.0" height="37.5" fill="#fff" stroke="#222" stroke-width="1.2"/>
<text x="770.0" y="634.75" font-size="15" font-weight="bold" text-anchor="middle" dominant-baseline="central" fill="#111" stroke="#111" stroke-width="0.55" transform="rotate(90 770.0 634.75)">VZ1</text>
<line x1="770" y1="590" x2="770" y2="616" stroke="#222" stroke-width="1"/>
<line x1="820" y1="578" x2="820" y2="690" stroke="#333" stroke-width="1"/>
<text x="808" y="597" font-size="12" text-anchor="start" fill="#1e1e1e" stroke="#1e1e1e" stroke-width="0.35" transform="rotate(90 808 597)" textLength="32.3" lengthAdjust="spacingAndGlyphs">240+20</text>
<text x="823.5" y="608" font-size="12" text-anchor="start" fill="#1e1e1e" stroke="#1e1e1e" stroke-width="0.35" transform="rotate(90 823.5 608)">160</text>
<circle cx="820.5" cy="645" r="10.3" fill="none" stroke="#333" stroke-width="1"/>
<line x1="810.0" y1="645" x2="831.0" y2="645" stroke="#333" stroke-width="0.9"/>
<path d="M820.5 645H815.0A5.5 5.5 0 0 1 820.5 639.5ZM820.5 645H826.0A5.5 5.5 0 0 1 820.5 650.5Z" fill="#111"/>
<circle cx="820.5" cy="645" r="5.5" fill="none" stroke="#111" stroke-width="1.1"/>
<text x="824" y="653" font-size="12" text-anchor="start" fill="#1e1e1e" stroke="#1e1e1e" stroke-width="0.35" transform="rotate(90 824 653)">-0,05</text>
<text x="732.5" y="600" font-size="12" text-anchor="start" fill="#1e1e1e" stroke="#1e1e1e" stroke-width="0.35" transform="rotate(90 732.5 600)" textLength="27.0" lengthAdjust="spacingAndGlyphs">60+20</text>
<text x="745" y="604" font-size="12" text-anchor="start" fill="#1e1e1e" stroke="#1e1e1e" stroke-width="0.35" transform="rotate(90 745 604)">90</text>
<text x="750" y="604" font-size="12" text-anchor="start" fill="#1e1e1e" stroke="#1e1e1e" stroke-width="0.35" transform="rotate(90 750 604)">60</text>
<text x="746" y="633.5" font-size="12" text-anchor="middle" fill="#1e1e1e" stroke="#1e1e1e" stroke-width="0.35" textLength="32.3" lengthAdjust="spacingAndGlyphs">240+20</text>
<path d="M731 578.5V597M746 578.5V634M712 621H767" fill="none" stroke="#333" stroke-width="1"/>
<text x="776" y="803.3" font-size="28.6" font-weight="bold" fill="#111" stroke="#111" stroke-width="0.5" textLength="215.5" lengthAdjust="spacingAndGlyphs">TLOCRT - PRIZEMLJE</text>
<path d="M1200 505A14 14 0 0 1 1222 490" fill="none" stroke="#bbb" stroke-width="1"/>
<line x1="560" y1="578" x2="637.5" y2="578" stroke="#555" stroke-width="1" stroke-dasharray="6 3"/>
<path d="M597.5 578V590M611 578V590" fill="none" stroke="#3a3a3a" stroke-width="1"/>
<line x1="688" y1="557" x2="688" y2="585" stroke="#3a3a3a" stroke-width="1"/>
</svg></body></html>
